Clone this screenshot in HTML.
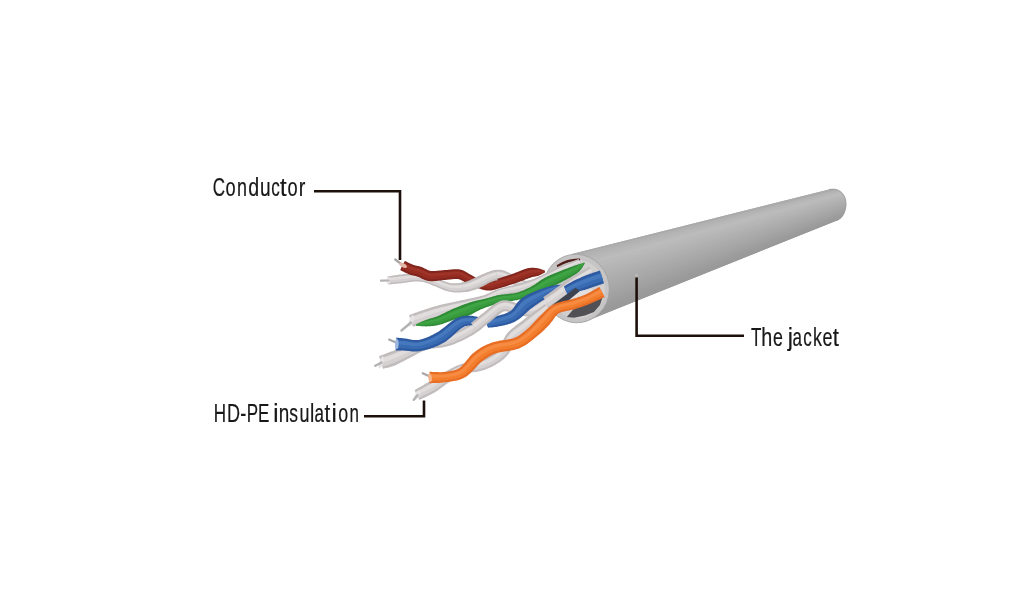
<!DOCTYPE html>
<html><head><meta charset="utf-8">
<style>
html,body{margin:0;padding:0;background:#fff;}
body{width:1024px;height:614px;overflow:hidden;}
svg{display:block;}
</style></head><body>
<svg width="1024" height="614" viewBox="0 0 1024 614">
<defs>
<linearGradient id="jk" gradientUnits="userSpaceOnUse" x1="690" y1="216" x2="712" y2="282">
<stop offset="0" stop-color="#a6a6a6"/>
<stop offset="0.25" stop-color="#b3b3b3"/>
<stop offset="0.6" stop-color="#a9a9a9"/>
<stop offset="1" stop-color="#9d9d9d"/>
</linearGradient>
<radialGradient id="cav" cx="0.5" cy="0.7" r="0.7">
<stop offset="0" stop-color="#4a4a4a"/>
<stop offset="1" stop-color="#6e6e6e"/>
</radialGradient>
</defs>
<rect width="1024" height="614" fill="#fff"/>
<!-- jacket body -->
<clipPath id="jclip"><path d="M572,254 L829,189.5 C840,187 847,196 846,206 C845,214 842,218 837,220.5 L584,322 Z"/></clipPath>
<g clip-path="url(#jclip)">
<path d="M540.0,258.7 L870.0,178.2 L870.0,209.3 L540.0,341.3 Z" fill="#aeaeae"/>
<path d="M540.0,252.9 L870.0,177.5 L870.0,182.1 L540.0,266.3 Z" fill="#aaaaaa"/>
<path d="M540.0,263.5 L870.0,181.2 L870.0,183.1 L540.0,269.1 Z" fill="#b1b1b1"/>
<path d="M540.0,266.3 L870.0,182.1 L870.0,184.1 L540.0,271.9 Z" fill="#b4b4b4"/>
<path d="M540.0,269.1 L870.0,183.1 L870.0,185.0 L540.0,274.8 Z" fill="#b7b7b7"/>
<path d="M540.0,271.9 L870.0,184.1 L870.0,186.0 L540.0,277.6 Z" fill="#b9b9b9"/>
<path d="M540.0,274.8 L870.0,185.0 L870.0,187.0 L540.0,280.4 Z" fill="#bcbcbc"/>
<path d="M540.0,277.6 L870.0,186.0 L870.0,187.9 L540.0,283.2 Z" fill="#bababa"/>
<path d="M540.0,280.4 L870.0,187.0 L870.0,188.9 L540.0,286.0 Z" fill="#b9b9b9"/>
<path d="M540.0,283.2 L870.0,187.9 L870.0,189.9 L540.0,288.8 Z" fill="#b7b7b7"/>
<path d="M540.0,286.0 L870.0,188.9 L870.0,190.8 L540.0,291.6 Z" fill="#b5b5b5"/>
<path d="M540.0,288.8 L870.0,189.9 L870.0,191.8 L540.0,294.4 Z" fill="#b4b4b4"/>
<path d="M540.0,291.6 L870.0,190.8 L870.0,192.8 L540.0,297.2 Z" fill="#b2b2b2"/>
<path d="M540.0,294.4 L870.0,191.8 L870.0,193.8 L540.0,300.0 Z" fill="#b0b0b0"/>
<path d="M540.0,297.2 L870.0,192.8 L870.0,194.7 L540.0,302.8 Z" fill="#afafaf"/>
<path d="M540.0,300.0 L870.0,193.8 L870.0,195.7 L540.0,305.6 Z" fill="#adadad"/>
<path d="M540.0,302.8 L870.0,194.7 L870.0,196.7 L540.0,308.4 Z" fill="#ababab"/>
<path d="M540.0,305.6 L870.0,195.7 L870.0,197.6 L540.0,311.2 Z" fill="#aaaaaa"/>
<path d="M540.0,308.4 L870.0,196.7 L870.0,198.6 L540.0,314.0 Z" fill="#a8a8a8"/>
<path d="M540.0,311.2 L870.0,197.6 L870.0,199.6 L540.0,316.8 Z" fill="#a7a7a7"/>
<path d="M540.0,314.0 L870.0,198.6 L870.0,200.5 L540.0,319.7 Z" fill="#a5a5a5"/>
<path d="M540.0,316.8 L870.0,199.6 L870.0,201.5 L540.0,322.5 Z" fill="#a3a3a3"/>
<path d="M540.0,319.7 L870.0,200.5 L870.0,202.5 L540.0,325.3 Z" fill="#a2a2a2"/>
<path d="M540.0,322.5 L870.0,201.5 L870.0,203.4 L540.0,328.1 Z" fill="#a0a0a0"/>
<path d="M540.0,325.3 L870.0,202.5 L870.0,204.4 L540.0,330.9 Z" fill="#9e9e9e"/>
<path d="M540.0,328.1 L870.0,203.4 L870.0,205.4 L540.0,333.7 Z" fill="#9c9c9c"/>
<path d="M540.0,330.9 L870.0,204.4 L870.0,206.3 L540.0,336.5 Z" fill="#9b9b9b"/>
<path d="M540.0,333.7 L870.0,205.4 L870.0,207.3 L540.0,339.3 Z" fill="#9a9a9a"/>
<path d="M540.0,336.5 L870.0,206.3 L870.0,210.0 L540.0,347.2 Z" fill="#999999"/>
</g>
<path d="M837,220.5 C842,218 845,214 846,206 C847,196 840,187 829,189.5" fill="none" stroke="#9c9c9c" stroke-width="1.2" opacity="0.6"/>
<!-- rim -->
<ellipse cx="576.3" cy="288.5" rx="33" ry="34.3" transform="rotate(-10 576.3 288.5)" fill="#c6c4c4" stroke="#a2a2a2" stroke-width="0.8"/>
<ellipse cx="577" cy="289" rx="28" ry="29.5" transform="rotate(-10 577 289)" fill="#d2cfcf"/>
<path d="M566.8,317 L574,308.5 L588,304 L602.5,297.5 L600,305 L594,312 L585,315.5 L574,317.7 Z" fill="#505055"/>
<path d="M552,305 L576,288 L580,292 L570,300.5 Z" fill="#3f4a5e"/>
<path d="M558,265.8 Q568,259.5 579,259.8" stroke="#52201c" stroke-width="2.4" fill="none" stroke-linecap="round"/>
<path d="M388.5,284.5 L389.1,284.4 L389.8,284.4 L390.6,284.3 L391.5,284.2 L392.5,284.1 L393.6,284.0 L394.8,283.9 L395.9,283.8 L397.1,283.7 L398.2,283.6 L399.4,283.5 L400.5,283.4 L401.6,283.2 L402.8,283.1 L404.0,282.9 L405.2,282.7 L406.4,282.5 L407.6,282.4 L408.8,282.2 L409.9,282.0 L411.0,281.9 L412.1,281.8 L413.1,281.7 L414.1,281.6 L415.1,281.6 L416.0,281.6 L416.8,281.6 L417.7,281.6 L418.5,281.6 L419.3,281.6 L420.1,281.7 L420.9,281.7 L421.7,281.8 L422.5,281.9 L423.3,282.1 L424.2,282.3 L425.0,282.4 L425.7,282.7 L426.5,282.9 L427.3,283.2 L428.1,283.5 L428.9,283.8 L429.7,284.2 L430.6,284.6 L431.6,285.0 L432.5,285.4 L433.5,285.8 L434.5,286.2 L435.6,286.6 L436.7,287.0 L437.8,287.5 L438.9,288.0 L440.2,288.6 L441.4,289.1 L442.8,289.7 L444.1,290.2 L445.5,290.7 L446.9,291.1 L448.3,291.5 L449.8,291.8 L451.2,292.1 L452.6,292.2 L454.0,292.4 L455.4,292.4 L456.8,292.5 L458.1,292.5 L459.5,292.4 L460.8,292.4 L462.1,292.3 L463.4,292.2 L464.6,292.0 L465.9,291.9 L467.1,291.7 L468.3,291.5 L469.5,291.2 L470.7,290.9 L471.8,290.6 L472.9,290.3 L473.9,290.0 L475.0,289.6 L476.0,289.3 L477.0,288.9 L478.0,288.5 L479.1,288.1 L480.3,287.6 L481.4,287.1 L482.6,286.5 L483.8,285.9 L484.9,285.3 L486.0,284.7 L487.1,284.1 L488.1,283.6 L489.1,283.1 L490.1,282.6 L491.0,282.2 L491.8,281.9 L492.7,281.6 L493.5,281.3 L494.3,281.0 L495.0,280.8 L495.7,280.6 L496.3,280.5 L496.8,280.4 L497.3,280.3 L497.9,280.2 L498.4,280.2 L498.9,280.2 L499.5,280.2 L500.1,280.2 L500.8,280.3 L501.5,280.4 L502.3,280.6 L503.2,280.8 L504.1,281.1 L505.1,281.4 L506.1,281.7 L507.2,282.0 L508.2,282.4 L509.3,282.7 L510.3,283.1 L511.3,283.4 L512.2,283.8 L513.2,284.2 L514.2,284.7 L515.3,285.2 L516.5,285.8 L517.7,286.3 L518.9,286.8 L520.3,287.3 L521.6,287.8 L523.1,288.1 L524.6,288.3 L526.0,288.4 L527.5,288.5 L529.0,288.4 L530.5,288.3 L531.9,288.1 L533.4,287.9 L534.8,287.6 L536.1,287.4 L537.5,287.1 L538.8,286.8 L540.0,286.5 L541.2,286.2 L542.4,285.9 L543.6,285.6 L544.7,285.2 L545.9,284.9 L547.0,284.5 L548.0,284.1 L549.1,283.7 L550.1,283.3 L551.1,282.8 L552.1,282.4 L553.1,281.9 L554.2,281.4 L555.3,280.9 L556.5,280.3 L557.8,279.6 L559.1,279.0 L560.4,278.3 L561.7,277.6 L562.9,276.9 L564.0,276.2 L565.1,275.6 L566.0,275.1 L566.8,274.7 L567.4,274.3 L562.6,265.7 L562.0,266.0 L561.2,266.4 L560.2,267.0 L559.2,267.5 L558.0,268.2 L556.8,268.8 L555.6,269.5 L554.4,270.2 L553.2,270.8 L552.0,271.4 L550.9,272.0 L549.8,272.6 L548.8,273.1 L547.9,273.6 L546.9,274.1 L546.0,274.6 L545.1,275.0 L544.2,275.5 L543.4,275.9 L542.5,276.3 L541.6,276.7 L540.7,277.1 L539.8,277.4 L538.8,277.8 L537.7,278.1 L536.5,278.5 L535.3,278.9 L534.2,279.3 L533.0,279.6 L531.8,279.9 L530.6,280.2 L529.5,280.4 L528.4,280.6 L527.3,280.7 L526.3,280.7 L525.4,280.7 L524.6,280.5 L523.8,280.3 L522.9,280.0 L522.0,279.6 L521.1,279.1 L520.1,278.6 L519.2,278.0 L518.1,277.3 L517.1,276.7 L515.9,276.1 L514.8,275.5 L513.7,274.9 L512.6,274.5 L511.6,274.0 L510.6,273.5 L509.6,273.0 L508.6,272.5 L507.5,272.0 L506.4,271.5 L505.3,271.1 L504.2,270.6 L503.0,270.3 L501.7,270.0 L500.5,269.8 L499.3,269.7 L498.1,269.7 L497.0,269.7 L495.9,269.8 L494.9,270.0 L493.9,270.3 L492.9,270.5 L492.0,270.8 L491.0,271.1 L490.1,271.4 L489.2,271.8 L488.2,272.1 L487.1,272.5 L485.9,273.0 L484.7,273.5 L483.6,274.0 L482.4,274.5 L481.2,275.0 L480.1,275.6 L479.0,276.1 L477.9,276.6 L476.9,277.1 L475.9,277.5 L474.9,277.9 L473.9,278.3 L472.9,278.8 L472.0,279.2 L471.1,279.6 L470.2,280.0 L469.3,280.4 L468.5,280.7 L467.6,281.1 L466.8,281.4 L465.9,281.6 L465.1,281.9 L464.1,282.1 L463.1,282.3 L462.1,282.5 L461.0,282.7 L459.9,282.9 L458.8,283.1 L457.7,283.2 L456.6,283.3 L455.5,283.3 L454.4,283.3 L453.3,283.3 L452.3,283.3 L451.2,283.2 L450.2,283.0 L449.2,282.8 L448.1,282.5 L447.0,282.1 L445.8,281.7 L444.6,281.2 L443.4,280.8 L442.2,280.3 L441.0,279.8 L439.8,279.3 L438.6,278.8 L437.5,278.4 L436.4,278.1 L435.4,277.7 L434.4,277.4 L433.5,277.1 L432.6,276.8 L431.7,276.4 L430.7,276.1 L429.8,275.8 L428.8,275.5 L427.9,275.2 L426.9,275.0 L425.8,274.7 L424.9,274.5 L423.9,274.3 L422.9,274.2 L422.0,274.0 L421.0,273.9 L420.0,273.7 L419.1,273.6 L418.1,273.5 L417.1,273.5 L416.1,273.4 L415.0,273.4 L413.9,273.4 L412.7,273.4 L411.5,273.4 L410.3,273.5 L409.0,273.6 L407.8,273.7 L406.5,273.8 L405.3,274.0 L404.1,274.1 L402.9,274.2 L401.7,274.4 L400.6,274.5 L399.5,274.6 L398.4,274.8 L397.2,274.9 L396.1,275.1 L394.9,275.2 L393.7,275.4 L392.6,275.5 L391.5,275.7 L390.5,275.9 L389.6,276.0 L388.8,276.1 L388.1,276.2 L387.5,276.3 Z" fill="#c2bcbd"/><path d="M388.3,282.9 L388.9,282.9 L389.6,282.8 L390.4,282.7 L391.3,282.6 L392.4,282.5 L393.4,282.4 L394.6,282.3 L395.7,282.2 L396.9,282.1 L398.1,282.0 L399.2,281.8 L400.3,281.7 L401.4,281.6 L402.6,281.4 L403.8,281.3 L405.0,281.1 L406.2,280.9 L407.4,280.7 L408.6,280.6 L409.8,280.4 L410.9,280.3 L412.0,280.2 L413.1,280.1 L414.1,280.1 L415.0,280.0 L416.0,280.0 L416.9,280.0 L417.8,280.0 L418.6,280.1 L419.5,280.1 L420.3,280.2 L421.1,280.3 L421.9,280.4 L422.8,280.5 L423.6,280.7 L424.5,280.8 L425.3,281.0 L426.1,281.3 L426.9,281.5 L427.8,281.8 L428.6,282.1 L429.4,282.4 L430.3,282.8 L431.2,283.1 L432.1,283.5 L433.1,283.9 L434.1,284.3 L435.1,284.7 L436.2,285.1 L437.2,285.5 L438.4,286.0 L439.6,286.5 L440.8,287.1 L442.0,287.6 L443.3,288.1 L444.6,288.6 L446.0,289.1 L447.3,289.5 L448.7,289.9 L450.0,290.2 L451.4,290.4 L452.7,290.6 L454.1,290.7 L455.4,290.7 L456.7,290.7 L458.1,290.7 L459.4,290.7 L460.6,290.6 L461.9,290.5 L463.1,290.3 L464.3,290.2 L465.5,290.0 L466.7,289.8 L467.9,289.6 L469.0,289.3 L470.1,289.1 L471.2,288.8 L472.2,288.4 L473.2,288.1 L474.2,287.7 L475.2,287.3 L476.2,287.0 L477.3,286.6 L478.3,286.1 L479.4,285.7 L480.6,285.2 L481.7,284.6 L482.9,284.0 L484.0,283.5 L485.1,282.9 L486.2,282.3 L487.3,281.8 L488.3,281.3 L489.3,280.8 L490.2,280.4 L491.1,280.0 L492.0,279.7 L492.9,279.4 L493.7,279.2 L494.4,278.9 L495.1,278.7 L495.8,278.5 L496.4,278.4 L497.1,278.3 L497.7,278.2 L498.3,278.2 L499.0,278.2 L499.7,278.2 L500.4,278.3 L501.2,278.4 L502.0,278.6 L502.9,278.8 L503.8,279.1 L504.8,279.3 L505.8,279.7 L506.8,280.0 L507.8,280.4 L508.9,280.8 L509.9,281.2 L510.9,281.5 L511.9,281.9 L512.9,282.3 L513.9,282.8 L515.0,283.3 L516.1,283.8 L517.2,284.4 L518.3,284.9 L519.5,285.5 L520.8,285.9 L522.0,286.3 L523.4,286.7 L524.7,286.9 L526.1,287.0 L527.5,287.0 L528.9,286.9 L530.3,286.8 L531.7,286.6 L533.1,286.4 L534.4,286.1 L535.8,285.8 L537.1,285.5 L538.3,285.2 L539.6,284.9 L540.8,284.6 L541.9,284.3 L543.1,284.0 L544.2,283.6 L545.2,283.3 L546.3,282.9 L547.3,282.5 L548.3,282.0 L549.3,281.6 L550.3,281.2 L551.3,280.7 L552.3,280.2 L553.4,279.8 L554.5,279.2 L555.7,278.6 L556.9,278.0 L558.2,277.3 L559.5,276.6 L560.7,275.9 L561.9,275.2 L563.1,274.6 L564.1,274.0 L565.1,273.5 L565.9,273.0 L566.5,272.7 L563.5,267.3 L562.9,267.7 L562.1,268.1 L561.1,268.6 L560.1,269.2 L559.0,269.8 L557.8,270.5 L556.5,271.2 L555.3,271.8 L554.0,272.5 L552.8,273.1 L551.7,273.7 L550.6,274.2 L549.6,274.7 L548.7,275.2 L547.7,275.7 L546.8,276.2 L545.9,276.7 L545.0,277.1 L544.1,277.5 L543.1,277.9 L542.2,278.3 L541.3,278.7 L540.3,279.0 L539.2,279.4 L538.1,279.7 L537.0,280.1 L535.8,280.4 L534.5,280.8 L533.3,281.1 L532.1,281.4 L530.8,281.7 L529.6,281.9 L528.5,282.1 L527.3,282.2 L526.3,282.2 L525.3,282.1 L524.3,282.0 L523.4,281.7 L522.4,281.4 L521.4,281.0 L520.5,280.5 L519.4,279.9 L518.4,279.3 L517.4,278.7 L516.3,278.1 L515.2,277.5 L514.1,277.0 L513.1,276.5 L512.0,276.0 L511.0,275.6 L510.0,275.1 L508.9,274.6 L507.9,274.2 L506.9,273.7 L505.8,273.3 L504.7,272.9 L503.7,272.5 L502.6,272.2 L501.4,271.9 L500.3,271.8 L499.2,271.7 L498.2,271.7 L497.2,271.7 L496.2,271.8 L495.2,272.0 L494.3,272.2 L493.4,272.4 L492.5,272.7 L491.7,273.0 L490.8,273.3 L489.9,273.6 L488.9,274.0 L487.8,274.3 L486.7,274.8 L485.6,275.3 L484.4,275.8 L483.3,276.3 L482.1,276.9 L481.0,277.4 L479.9,278.0 L478.8,278.5 L477.7,279.0 L476.7,279.4 L475.7,279.9 L474.7,280.3 L473.7,280.7 L472.7,281.1 L471.8,281.5 L470.9,281.9 L470.0,282.3 L469.1,282.6 L468.2,282.9 L467.3,283.2 L466.4,283.5 L465.5,283.8 L464.5,284.0 L463.4,284.2 L462.3,284.4 L461.2,284.5 L460.1,284.7 L458.9,284.8 L457.8,284.9 L456.6,285.0 L455.4,285.1 L454.3,285.1 L453.2,285.0 L452.0,284.9 L451.0,284.8 L449.9,284.6 L448.8,284.4 L447.6,284.0 L446.4,283.6 L445.2,283.2 L444.0,282.7 L442.8,282.2 L441.6,281.7 L440.4,281.2 L439.2,280.8 L438.0,280.3 L436.9,279.9 L435.8,279.5 L434.9,279.2 L433.9,278.8 L433.0,278.5 L432.0,278.2 L431.1,277.8 L430.2,277.5 L429.3,277.2 L428.4,276.9 L427.4,276.7 L426.5,276.4 L425.5,276.2 L424.6,276.0 L423.6,275.8 L422.7,275.6 L421.8,275.5 L420.8,275.3 L419.9,275.2 L419.0,275.1 L418.0,275.1 L417.0,275.0 L416.0,275.0 L415.0,274.9 L413.9,274.9 L412.8,275.0 L411.6,275.0 L410.4,275.1 L409.2,275.2 L408.0,275.3 L406.7,275.5 L405.5,275.6 L404.3,275.7 L403.1,275.9 L401.9,276.0 L400.8,276.2 L399.7,276.3 L398.6,276.4 L397.4,276.6 L396.3,276.7 L395.1,276.9 L393.9,277.0 L392.8,277.2 L391.7,277.3 L390.7,277.4 L389.8,277.6 L389.0,277.7 L388.3,277.8 L387.7,277.9 Z" fill="#d5d0d1"/><path d="M388.0,280.6 L388.6,280.6 L389.3,280.5 L390.1,280.4 L391.1,280.3 L392.1,280.2 L393.2,280.0 L394.3,279.9 L395.4,279.8 L396.6,279.6 L397.8,279.5 L398.9,279.4 L400.0,279.3 L401.1,279.1 L402.3,279.0 L403.5,278.8 L404.7,278.7 L405.9,278.5 L407.1,278.4 L408.3,278.2 L409.5,278.1 L410.7,278.0 L411.8,277.9 L412.9,277.8 L414.0,277.7 L415.0,277.7 L416.0,277.7 L417.0,277.8 L417.9,277.8 L418.8,277.8 L419.7,277.9 L420.5,278.0 L421.4,278.1 L422.3,278.2 L423.2,278.4 L424.0,278.5 L424.9,278.7 L425.8,278.9 L426.7,279.2 L427.6,279.4 L428.5,279.7 L429.3,280.0 L430.2,280.4 L431.1,280.7 L432.0,281.1 L432.9,281.4 L433.9,281.8 L434.9,282.2 L435.9,282.5 L437.0,282.9 L438.1,283.4 L439.3,283.9 L440.5,284.4 L441.7,284.9 L442.9,285.4 L444.2,285.9 L445.5,286.4 L446.7,286.8 L448.0,287.2 L449.2,287.5 L450.5,287.8 L451.7,287.9 L452.9,288.1 L454.2,288.1 L455.4,288.2 L456.7,288.1 L457.9,288.1 L459.2,288.0 L460.4,287.9 L461.6,287.8 L462.8,287.6 L463.9,287.5 L465.1,287.3 L466.1,287.1 L467.2,286.9 L468.2,286.6 L469.2,286.3 L470.2,286.0 L471.2,285.6 L472.2,285.3 L473.1,284.9 L474.1,284.5 L475.1,284.1 L476.1,283.7 L477.1,283.3 L478.2,282.9 L479.3,282.4 L480.4,281.8 L481.5,281.3 L482.6,280.7 L483.8,280.2 L484.9,279.6 L486.0,279.1 L487.1,278.6 L488.1,278.1 L489.1,277.7 L490.1,277.3 L491.0,277.0 L491.9,276.7 L492.8,276.4 L493.6,276.1 L494.4,275.9 L495.1,275.7 L495.9,275.5 L496.7,275.4 L497.5,275.3 L498.3,275.3 L499.1,275.3 L500.0,275.3 L500.9,275.4 L501.8,275.6 L502.8,275.8 L503.7,276.1 L504.7,276.4 L505.7,276.8 L506.7,277.2 L507.7,277.6 L508.8,278.0 L509.8,278.4 L510.9,278.8 L511.9,279.2 L512.9,279.7 L514.0,280.2 L515.0,280.7 L516.1,281.2 L517.1,281.8 L518.2,282.4 L519.3,282.9 L520.4,283.4 L521.5,283.9 L522.6,284.3 L523.8,284.5 L525.0,284.7 L526.2,284.8 L527.4,284.8 L528.7,284.7 L530.0,284.6 L531.3,284.4 L532.6,284.1 L533.9,283.9 L535.2,283.6 L536.5,283.2 L537.7,282.9 L538.9,282.6 L540.1,282.3 L541.2,281.9 L542.2,281.6 L543.3,281.2 L544.3,280.8 L545.3,280.5 L546.2,280.0 L547.2,279.6 L548.2,279.2 L549.1,278.7 L550.1,278.2 L551.1,277.8 L552.1,277.3 L553.2,276.7 L554.4,276.1 L555.6,275.5 L556.9,274.8 L558.1,274.1 L559.4,273.4 L560.6,272.8 L561.7,272.1 L562.8,271.6 L563.7,271.0 L564.5,270.6 L565.1,270.3 L563.7,267.7 L563.1,268.0 L562.3,268.4 L561.3,269.0 L560.3,269.5 L559.2,270.2 L558.0,270.8 L556.7,271.5 L555.5,272.2 L554.2,272.8 L553.0,273.5 L551.9,274.1 L550.8,274.6 L549.8,275.1 L548.8,275.6 L547.9,276.1 L546.9,276.6 L546.0,277.0 L545.1,277.5 L544.2,277.9 L543.3,278.3 L542.3,278.7 L541.4,279.0 L540.4,279.4 L539.3,279.7 L538.2,280.1 L537.0,280.4 L535.8,280.8 L534.6,281.1 L533.4,281.5 L532.1,281.8 L530.9,282.0 L529.7,282.2 L528.5,282.4 L527.4,282.5 L526.3,282.5 L525.2,282.4 L524.3,282.3 L523.3,282.0 L522.3,281.7 L521.3,281.2 L520.3,280.8 L519.3,280.2 L518.3,279.6 L517.2,279.0 L516.2,278.4 L515.1,277.8 L514.0,277.3 L512.9,276.8 L511.9,276.4 L510.8,275.9 L509.8,275.4 L508.8,275.0 L507.8,274.5 L506.7,274.1 L505.7,273.7 L504.6,273.3 L503.5,272.9 L502.5,272.6 L501.4,272.4 L500.3,272.2 L499.2,272.1 L498.2,272.1 L497.2,272.1 L496.2,272.3 L495.3,272.4 L494.4,272.6 L493.5,272.8 L492.7,273.1 L491.8,273.4 L490.9,273.7 L490.0,274.0 L489.0,274.4 L488.0,274.7 L486.9,275.2 L485.8,275.7 L484.6,276.2 L483.5,276.7 L482.3,277.3 L481.2,277.8 L480.1,278.4 L479.0,278.9 L477.9,279.4 L476.9,279.8 L475.8,280.3 L474.9,280.7 L473.9,281.1 L472.9,281.5 L472.0,281.9 L471.0,282.3 L470.1,282.7 L469.2,283.0 L468.3,283.3 L467.4,283.6 L466.5,283.9 L465.5,284.2 L464.5,284.4 L463.5,284.6 L462.4,284.8 L461.2,284.9 L460.1,285.1 L458.9,285.2 L457.8,285.3 L456.6,285.4 L455.4,285.4 L454.3,285.4 L453.1,285.4 L452.0,285.3 L450.9,285.2 L449.8,285.0 L448.7,284.7 L447.5,284.3 L446.3,284.0 L445.1,283.5 L443.9,283.0 L442.7,282.5 L441.5,282.0 L440.2,281.5 L439.1,281.1 L437.9,280.6 L436.8,280.2 L435.7,279.8 L434.7,279.5 L433.8,279.1 L432.9,278.8 L431.9,278.5 L431.0,278.1 L430.1,277.8 L429.2,277.5 L428.3,277.2 L427.4,276.9 L426.4,276.7 L425.5,276.5 L424.5,276.3 L423.6,276.1 L422.6,275.9 L421.7,275.8 L420.8,275.7 L419.9,275.5 L418.9,275.5 L418.0,275.4 L417.0,275.3 L416.0,275.3 L415.0,275.3 L413.9,275.3 L412.8,275.3 L411.7,275.4 L410.5,275.4 L409.2,275.5 L408.0,275.7 L406.8,275.8 L405.5,275.9 L404.3,276.1 L403.1,276.2 L402.0,276.4 L400.8,276.5 L399.7,276.6 L398.6,276.8 L397.5,276.9 L396.3,277.0 L395.1,277.2 L394.0,277.3 L392.9,277.5 L391.8,277.6 L390.8,277.8 L389.8,277.9 L389.0,278.0 L388.3,278.1 L387.7,278.2 Z" fill="#e6e2e3" opacity="0.7"/>
<ellipse cx="388.3" cy="280.4" rx="1.6" ry="4" fill="#e6e4e4"/>
<path d="M395.2,259.5 L402.0,264.5" stroke="#a5a5a5" stroke-width="2.2" stroke-linecap="round"/>
<path d="M400.2,270.1 L400.6,270.3 L401.1,270.6 L401.7,270.9 L402.4,271.2 L403.1,271.6 L403.9,272.0 L404.7,272.4 L405.6,272.8 L406.5,273.2 L407.4,273.6 L408.3,274.0 L409.2,274.4 L410.1,274.7 L411.0,274.9 L411.8,275.2 L412.6,275.4 L413.4,275.6 L414.2,275.8 L414.9,276.0 L415.6,276.1 L416.3,276.3 L417.0,276.5 L417.6,276.7 L418.2,276.9 L418.8,277.1 L419.4,277.3 L420.0,277.7 L420.7,278.0 L421.5,278.4 L422.3,278.9 L423.3,279.3 L424.3,279.8 L425.4,280.2 L426.7,280.6 L428.0,280.9 L429.4,281.1 L430.8,281.2 L432.2,281.3 L433.6,281.2 L435.0,281.1 L436.4,281.0 L437.8,280.8 L439.1,280.6 L440.4,280.4 L441.7,280.3 L443.0,280.1 L444.2,280.0 L445.4,279.9 L446.6,279.8 L447.9,279.7 L449.2,279.5 L450.4,279.4 L451.6,279.3 L452.8,279.2 L453.9,279.1 L454.9,279.1 L455.9,279.0 L456.8,279.0 L457.6,279.1 L458.3,279.1 L458.9,279.2 L459.4,279.4 L459.9,279.5 L460.4,279.7 L460.9,279.9 L461.4,280.2 L462.0,280.5 L462.7,280.9 L463.4,281.3 L464.2,281.7 L465.0,282.2 L465.9,282.6 L466.7,283.0 L467.5,283.3 L468.3,283.7 L469.1,284.1 L470.0,284.6 L470.9,285.0 L471.8,285.5 L472.7,285.9 L473.6,286.3 L474.6,286.8 L475.5,287.2 L476.4,287.5 L477.4,287.9 L478.3,288.2 L479.2,288.5 L480.2,288.8 L481.1,289.2 L482.1,289.4 L483.0,289.7 L484.0,289.9 L484.9,290.2 L485.9,290.3 L486.8,290.5 L487.7,290.6 L488.7,290.6 L489.6,290.6 L490.5,290.6 L491.3,290.5 L492.1,290.3 L492.8,290.2 L493.4,290.0 L494.0,289.8 L494.6,289.7 L495.1,289.5 L495.7,289.4 L496.3,289.2 L497.0,289.0 L497.8,288.8 L498.6,288.6 L499.5,288.3 L500.3,288.1 L501.2,287.8 L502.1,287.5 L503.0,287.3 L503.9,287.0 L504.7,286.7 L505.6,286.4 L506.5,286.2 L507.3,285.9 L508.2,285.6 L509.0,285.3 L509.9,285.1 L510.7,284.8 L511.6,284.5 L512.4,284.2 L513.3,283.9 L514.2,283.6 L515.2,283.3 L516.1,283.0 L517.2,282.6 L518.2,282.2 L519.4,281.8 L520.6,281.3 L521.8,280.9 L523.0,280.4 L524.2,280.0 L525.3,279.5 L526.5,279.1 L527.5,278.7 L528.5,278.3 L529.5,278.0 L530.3,277.7 L531.0,277.5 L531.7,277.3 L532.3,277.1 L533.0,277.0 L533.6,276.8 L534.2,276.7 L534.9,276.6 L535.5,276.4 L536.2,276.3 L536.9,276.1 L537.6,275.9 L538.3,275.7 L539.0,275.5 L539.6,275.2 L540.3,274.9 L540.9,274.6 L541.6,274.2 L542.2,273.9 L542.8,273.6 L543.4,273.3 L543.9,273.0 L544.3,272.7 L544.7,272.5 L545.1,272.4 L544.9,270.6 L544.6,270.5 L544.2,270.4 L543.7,270.2 L543.2,269.9 L542.6,269.7 L541.9,269.5 L541.2,269.2 L540.5,269.0 L539.8,268.8 L539.1,268.6 L538.4,268.4 L537.7,268.3 L537.1,268.2 L536.4,268.1 L535.8,268.0 L535.1,267.9 L534.4,267.8 L533.6,267.7 L532.7,267.7 L531.8,267.7 L530.9,267.8 L529.9,267.9 L528.8,268.1 L527.7,268.3 L526.6,268.6 L525.4,268.9 L524.2,269.3 L523.0,269.8 L521.8,270.2 L520.5,270.7 L519.3,271.2 L518.1,271.7 L517.0,272.2 L515.9,272.6 L514.8,273.0 L513.8,273.4 L512.9,273.7 L512.0,274.1 L511.1,274.4 L510.2,274.7 L509.3,275.0 L508.5,275.2 L507.7,275.5 L506.8,275.8 L506.0,276.0 L505.2,276.3 L504.4,276.6 L503.5,276.8 L502.7,277.1 L501.8,277.4 L500.9,277.6 L500.1,277.9 L499.2,278.2 L498.4,278.4 L497.5,278.7 L496.7,278.9 L495.9,279.2 L495.2,279.4 L494.4,279.6 L493.7,279.8 L492.9,280.0 L492.3,280.2 L491.6,280.5 L491.1,280.7 L490.6,280.9 L490.2,281.0 L489.9,281.1 L489.6,281.2 L489.3,281.3 L489.0,281.4 L488.7,281.4 L488.3,281.4 L487.7,281.4 L487.1,281.3 L486.5,281.3 L485.8,281.2 L485.1,281.0 L484.3,280.9 L483.5,280.7 L482.7,280.5 L481.9,280.3 L481.1,280.0 L480.3,279.7 L479.6,279.5 L478.8,279.2 L478.1,278.9 L477.3,278.5 L476.6,278.1 L475.8,277.7 L475.0,277.2 L474.2,276.7 L473.4,276.3 L472.6,275.8 L471.7,275.3 L470.9,274.8 L470.1,274.4 L469.4,274.0 L468.8,273.7 L468.2,273.3 L467.5,272.8 L466.8,272.4 L466.1,271.9 L465.2,271.4 L464.3,270.9 L463.3,270.5 L462.2,270.1 L461.0,269.7 L459.7,269.5 L458.4,269.3 L457.1,269.2 L455.8,269.2 L454.5,269.3 L453.2,269.3 L452.0,269.5 L450.7,269.6 L449.4,269.7 L448.2,269.8 L447.0,270.0 L445.8,270.1 L444.6,270.1 L443.3,270.2 L442.0,270.3 L440.7,270.4 L439.3,270.6 L438.0,270.7 L436.7,270.8 L435.5,270.9 L434.3,270.9 L433.2,271.0 L432.3,271.0 L431.4,270.9 L430.6,270.9 L430.0,270.7 L429.4,270.6 L428.8,270.4 L428.2,270.2 L427.6,269.9 L426.9,269.6 L426.2,269.2 L425.4,268.8 L424.6,268.4 L423.7,267.9 L422.7,267.5 L421.8,267.1 L420.8,266.8 L419.9,266.5 L419.0,266.3 L418.2,266.1 L417.4,265.9 L416.6,265.7 L415.9,265.5 L415.2,265.4 L414.6,265.2 L414.0,265.0 L413.4,264.9 L412.8,264.6 L412.2,264.4 L411.5,264.1 L410.8,263.8 L410.0,263.4 L409.2,263.1 L408.5,262.7 L407.7,262.3 L407.0,262.0 L406.3,261.6 L405.7,261.3 L405.2,261.1 L404.8,260.9 Z" fill="#82251c"/><path d="M401.1,268.3 L401.5,268.5 L402.0,268.7 L402.6,269.0 L403.3,269.4 L404.0,269.7 L404.8,270.1 L405.6,270.5 L406.5,270.9 L407.4,271.3 L408.2,271.7 L409.1,272.1 L409.9,272.4 L410.7,272.7 L411.6,273.0 L412.4,273.2 L413.1,273.4 L413.9,273.6 L414.7,273.8 L415.4,273.9 L416.1,274.1 L416.9,274.3 L417.6,274.5 L418.3,274.7 L418.9,274.9 L419.6,275.2 L420.3,275.5 L420.9,275.8 L421.7,276.2 L422.4,276.6 L423.2,277.0 L424.1,277.4 L425.1,277.9 L426.1,278.3 L427.2,278.6 L428.4,278.9 L429.6,279.1 L430.9,279.2 L432.2,279.2 L433.5,279.2 L434.9,279.1 L436.2,278.9 L437.6,278.8 L438.9,278.6 L440.2,278.5 L441.5,278.3 L442.8,278.1 L444.0,278.0 L445.2,277.9 L446.5,277.8 L447.7,277.7 L449.0,277.6 L450.2,277.5 L451.4,277.4 L452.6,277.2 L453.8,277.2 L454.9,277.1 L455.9,277.1 L456.9,277.1 L457.8,277.1 L458.6,277.2 L459.3,277.3 L459.9,277.5 L460.6,277.7 L461.1,277.9 L461.7,278.2 L462.4,278.5 L463.0,278.9 L463.7,279.3 L464.4,279.7 L465.1,280.1 L465.9,280.5 L466.7,280.9 L467.5,281.3 L468.3,281.7 L469.2,282.1 L470.0,282.6 L470.8,283.0 L471.7,283.4 L472.6,283.9 L473.5,284.3 L474.4,284.8 L475.3,285.2 L476.2,285.6 L477.1,285.9 L478.0,286.2 L478.9,286.6 L479.8,286.9 L480.7,287.2 L481.6,287.5 L482.5,287.7 L483.4,288.0 L484.3,288.2 L485.2,288.4 L486.1,288.5 L487.0,288.7 L487.8,288.8 L488.7,288.8 L489.5,288.8 L490.2,288.7 L491.0,288.6 L491.6,288.5 L492.3,288.3 L492.9,288.2 L493.4,288.0 L494.0,287.8 L494.6,287.7 L495.1,287.5 L495.8,287.3 L496.5,287.1 L497.3,286.9 L498.1,286.7 L498.9,286.5 L499.8,286.2 L500.6,285.9 L501.5,285.7 L502.4,285.4 L503.3,285.1 L504.1,284.8 L505.0,284.6 L505.9,284.3 L506.7,284.0 L507.6,283.8 L508.4,283.5 L509.3,283.2 L510.1,282.9 L511.0,282.7 L511.8,282.4 L512.7,282.1 L513.6,281.8 L514.5,281.4 L515.5,281.1 L516.5,280.8 L517.6,280.4 L518.7,280.0 L519.8,279.5 L521.0,279.0 L522.2,278.6 L523.4,278.1 L524.6,277.7 L525.8,277.2 L526.9,276.8 L527.9,276.4 L528.9,276.1 L529.8,275.8 L530.6,275.6 L531.3,275.4 L532.0,275.3 L532.7,275.1 L533.4,275.0 L534.1,274.9 L534.8,274.8 L535.4,274.7 L536.1,274.6 L536.8,274.5 L537.5,274.4 L538.2,274.2 L538.9,274.1 L539.5,273.9 L540.2,273.7 L540.9,273.5 L541.5,273.2 L542.2,273.0 L542.8,272.8 L543.3,272.6 L543.8,272.4 L544.3,272.3 L544.7,272.1 L545.0,272.0 L545.0,271.0 L544.6,270.9 L544.2,270.8 L543.7,270.7 L543.2,270.6 L542.6,270.5 L542.0,270.4 L541.3,270.2 L540.6,270.1 L539.9,270.0 L539.2,269.9 L538.5,269.8 L537.8,269.8 L537.2,269.7 L536.5,269.7 L535.9,269.6 L535.2,269.6 L534.5,269.5 L533.7,269.5 L532.9,269.5 L532.1,269.6 L531.2,269.7 L530.2,269.8 L529.3,269.9 L528.2,270.2 L527.2,270.5 L526.0,270.8 L524.9,271.2 L523.7,271.6 L522.5,272.1 L521.3,272.6 L520.0,273.1 L518.9,273.5 L517.7,274.0 L516.6,274.5 L515.5,274.9 L514.5,275.2 L513.5,275.6 L512.6,275.9 L511.7,276.2 L510.8,276.5 L510.0,276.8 L509.1,277.1 L508.3,277.4 L507.4,277.6 L506.6,277.9 L505.8,278.2 L505.0,278.4 L504.1,278.7 L503.3,279.0 L502.4,279.2 L501.5,279.5 L500.7,279.8 L499.8,280.0 L498.9,280.3 L498.1,280.6 L497.3,280.8 L496.5,281.0 L495.7,281.3 L494.9,281.5 L494.2,281.7 L493.5,281.9 L492.8,282.1 L492.2,282.3 L491.7,282.5 L491.2,282.7 L490.7,282.8 L490.3,283.0 L489.9,283.1 L489.5,283.2 L489.1,283.2 L488.7,283.2 L488.2,283.2 L487.6,283.2 L486.9,283.1 L486.2,283.0 L485.4,282.9 L484.7,282.8 L483.9,282.6 L483.0,282.4 L482.2,282.2 L481.4,281.9 L480.5,281.6 L479.7,281.4 L478.9,281.1 L478.2,280.8 L477.4,280.4 L476.6,280.1 L475.8,279.6 L475.0,279.2 L474.2,278.8 L473.4,278.3 L472.5,277.8 L471.7,277.4 L470.9,276.9 L470.1,276.5 L469.3,276.1 L468.5,275.7 L467.9,275.3 L467.2,274.9 L466.6,274.4 L465.9,274.0 L465.1,273.5 L464.4,273.1 L463.5,272.7 L462.6,272.3 L461.6,271.9 L460.6,271.6 L459.4,271.4 L458.3,271.3 L457.1,271.2 L455.8,271.2 L454.6,271.2 L453.4,271.3 L452.1,271.4 L450.9,271.5 L449.6,271.7 L448.4,271.8 L447.2,271.9 L446.0,272.0 L444.8,272.1 L443.5,272.2 L442.2,272.3 L440.9,272.4 L439.6,272.5 L438.2,272.7 L436.9,272.8 L435.7,272.9 L434.5,273.0 L433.3,273.0 L432.2,273.0 L431.3,273.0 L430.4,272.9 L429.6,272.8 L428.9,272.6 L428.1,272.4 L427.4,272.1 L426.7,271.8 L426.0,271.4 L425.3,271.0 L424.5,270.6 L423.7,270.2 L422.8,269.8 L422.0,269.4 L421.1,269.1 L420.2,268.8 L419.3,268.5 L418.5,268.3 L417.7,268.1 L416.9,267.9 L416.1,267.7 L415.4,267.6 L414.7,267.4 L414.0,267.2 L413.4,267.0 L412.7,266.8 L412.1,266.6 L411.4,266.3 L410.7,266.0 L409.9,265.7 L409.1,265.3 L408.3,264.9 L407.6,264.6 L406.8,264.2 L406.1,263.8 L405.4,263.5 L404.8,263.2 L404.3,262.9 L403.9,262.7 Z" fill="#952c22"/><path d="M402.4,265.8 L402.8,266.0 L403.3,266.2 L403.9,266.5 L404.5,266.9 L405.3,267.2 L406.1,267.6 L406.9,268.0 L407.7,268.4 L408.5,268.8 L409.3,269.2 L410.1,269.5 L410.9,269.8 L411.6,270.1 L412.4,270.3 L413.1,270.5 L413.8,270.7 L414.6,270.9 L415.3,271.1 L416.1,271.2 L416.8,271.4 L417.6,271.6 L418.4,271.8 L419.1,272.0 L419.9,272.3 L420.7,272.6 L421.4,272.9 L422.2,273.3 L422.9,273.7 L423.7,274.1 L424.5,274.5 L425.3,274.9 L426.1,275.3 L427.0,275.6 L428.0,275.9 L428.9,276.1 L430.0,276.3 L431.1,276.4 L432.2,276.4 L433.4,276.4 L434.7,276.3 L436.0,276.2 L437.3,276.1 L438.6,275.9 L439.9,275.8 L441.2,275.6 L442.5,275.5 L443.8,275.4 L445.0,275.3 L446.2,275.2 L447.5,275.1 L448.7,275.0 L450.0,274.9 L451.2,274.7 L452.4,274.6 L453.6,274.5 L454.8,274.5 L455.9,274.4 L457.0,274.4 L458.0,274.5 L459.0,274.6 L459.9,274.8 L460.7,275.0 L461.5,275.3 L462.2,275.6 L462.9,275.9 L463.6,276.3 L464.3,276.7 L465.0,277.1 L465.7,277.5 L466.4,277.9 L467.1,278.4 L467.9,278.7 L468.7,279.1 L469.5,279.6 L470.3,280.0 L471.1,280.4 L472.0,280.9 L472.8,281.3 L473.7,281.8 L474.5,282.2 L475.4,282.6 L476.2,283.0 L477.1,283.4 L477.9,283.7 L478.8,284.1 L479.6,284.4 L480.5,284.6 L481.4,284.9 L482.2,285.2 L483.1,285.4 L484.0,285.6 L484.8,285.8 L485.7,286.0 L486.5,286.1 L487.2,286.2 L488.0,286.3 L488.7,286.3 L489.3,286.3 L489.9,286.2 L490.5,286.1 L491.0,286.0 L491.6,285.9 L492.1,285.7 L492.6,285.5 L493.2,285.4 L493.8,285.2 L494.4,285.0 L495.1,284.8 L495.8,284.6 L496.6,284.4 L497.4,284.2 L498.2,283.9 L499.0,283.7 L499.9,283.4 L500.7,283.1 L501.6,282.9 L502.5,282.6 L503.4,282.3 L504.2,282.1 L505.1,281.8 L505.9,281.5 L506.8,281.2 L507.6,281.0 L508.4,280.7 L509.3,280.4 L510.1,280.2 L511.0,279.9 L511.9,279.6 L512.7,279.3 L513.7,279.0 L514.6,278.6 L515.6,278.3 L516.6,277.9 L517.7,277.5 L518.9,277.0 L520.1,276.6 L521.2,276.1 L522.5,275.6 L523.6,275.2 L524.8,274.7 L526.0,274.3 L527.1,273.9 L528.1,273.6 L529.1,273.3 L530.0,273.1 L530.8,272.9 L531.7,272.7 L532.4,272.6 L533.2,272.5 L533.9,272.5 L534.6,272.4 L535.3,272.4 L536.0,272.4 L536.7,272.3 L537.4,272.3 L538.0,272.2 L538.7,272.2 L539.4,272.1 L540.1,272.0 L540.8,271.9 L541.4,271.9 L542.1,271.8 L542.7,271.8 L543.3,271.7 L543.8,271.7 L544.3,271.6 L544.7,271.6 L545.0,271.6 L545.0,271.0 L544.6,271.0 L544.2,270.9 L543.7,270.8 L543.2,270.7 L542.6,270.6 L542.0,270.5 L541.3,270.4 L540.6,270.3 L539.9,270.2 L539.2,270.1 L538.5,270.0 L537.8,270.0 L537.2,270.0 L536.5,269.9 L535.9,269.9 L535.2,269.8 L534.5,269.8 L533.7,269.8 L532.9,269.8 L532.1,269.9 L531.2,269.9 L530.3,270.1 L529.3,270.2 L528.3,270.5 L527.2,270.7 L526.1,271.1 L525.0,271.5 L523.8,271.9 L522.6,272.4 L521.4,272.8 L520.2,273.3 L519.0,273.8 L517.8,274.3 L516.7,274.7 L515.6,275.1 L514.6,275.5 L513.6,275.9 L512.7,276.2 L511.8,276.5 L510.9,276.8 L510.0,277.1 L509.2,277.4 L508.4,277.6 L507.5,277.9 L506.7,278.2 L505.9,278.4 L505.0,278.7 L504.2,279.0 L503.3,279.3 L502.5,279.5 L501.6,279.8 L500.7,280.1 L499.9,280.3 L499.0,280.6 L498.2,280.8 L497.3,281.1 L496.5,281.3 L495.8,281.5 L495.0,281.8 L494.3,282.0 L493.6,282.2 L492.9,282.4 L492.3,282.6 L491.8,282.8 L491.3,283.0 L490.8,283.1 L490.4,283.2 L490.0,283.4 L489.6,283.4 L489.2,283.5 L488.7,283.5 L488.1,283.5 L487.5,283.5 L486.9,283.4 L486.1,283.3 L485.4,283.2 L484.6,283.0 L483.8,282.8 L483.0,282.6 L482.1,282.4 L481.3,282.2 L480.5,281.9 L479.6,281.6 L478.8,281.3 L478.1,281.0 L477.3,280.7 L476.5,280.3 L475.7,279.9 L474.9,279.4 L474.1,279.0 L473.2,278.5 L472.4,278.1 L471.6,277.6 L470.7,277.1 L469.9,276.7 L469.1,276.3 L468.4,275.9 L467.7,275.5 L467.1,275.1 L466.4,274.7 L465.7,274.2 L465.0,273.8 L464.2,273.4 L463.4,272.9 L462.5,272.5 L461.5,272.2 L460.5,271.9 L459.4,271.7 L458.2,271.6 L457.1,271.5 L455.8,271.5 L454.6,271.5 L453.4,271.6 L452.2,271.7 L450.9,271.8 L449.7,271.9 L448.4,272.1 L447.2,272.2 L446.0,272.3 L444.8,272.4 L443.5,272.5 L442.2,272.6 L440.9,272.7 L439.6,272.8 L438.3,273.0 L437.0,273.1 L435.7,273.2 L434.5,273.3 L433.3,273.3 L432.2,273.3 L431.2,273.3 L430.3,273.2 L429.5,273.1 L428.8,272.9 L428.0,272.7 L427.3,272.4 L426.6,272.1 L425.9,271.7 L425.1,271.3 L424.4,270.9 L423.6,270.5 L422.7,270.1 L421.8,269.7 L420.9,269.4 L420.1,269.1 L419.2,268.8 L418.4,268.6 L417.6,268.4 L416.8,268.2 L416.1,268.0 L415.3,267.9 L414.6,267.7 L413.9,267.5 L413.3,267.3 L412.6,267.1 L412.0,266.9 L411.3,266.6 L410.6,266.3 L409.8,266.0 L409.0,265.6 L408.2,265.2 L407.4,264.8 L406.7,264.5 L405.9,264.1 L405.3,263.8 L404.7,263.5 L404.2,263.2 L403.7,263.0 Z" fill="#a33629" opacity="0.7"/>
<ellipse cx="403" cy="265.2" rx="2" ry="4.2" transform="rotate(-62 403 265.2)" fill="#e2b7a8"/>
<path d="M463.5,292.1 L464.7,292.0 L465.9,291.9 L467.1,291.7 L468.3,291.5 L469.5,291.2 L470.7,290.9 L471.8,290.6 L472.9,290.3 L473.9,290.0 L475.0,289.6 L476.0,289.3 L477.0,288.9 L478.0,288.5 L479.1,288.1 L480.3,287.6 L481.4,287.1 L482.6,286.5 L483.8,285.9 L484.9,285.3 L486.0,284.7 L487.1,284.1 L488.1,283.6 L489.1,283.1 L490.1,282.6 L491.0,282.2 L491.8,281.9 L492.7,281.6 L493.5,281.3 L494.3,281.0 L495.0,280.8 L495.7,280.6 L496.3,280.5 L497.0,280.4 L497.6,280.3 L495.6,269.9 L494.7,270.1 L493.9,270.3 L492.9,270.5 L492.0,270.8 L491.0,271.1 L490.1,271.4 L489.2,271.8 L488.2,272.1 L487.1,272.5 L485.9,273.0 L484.7,273.5 L483.6,274.0 L482.4,274.5 L481.2,275.0 L480.1,275.6 L479.0,276.1 L477.9,276.6 L476.9,277.1 L475.9,277.5 L474.9,277.9 L473.9,278.3 L472.9,278.8 L472.0,279.2 L471.1,279.6 L470.2,280.0 L469.3,280.4 L468.5,280.7 L467.6,281.1 L466.8,281.4 L465.9,281.6 L465.1,281.9 L464.1,282.1 L463.1,282.3 L462.0,282.6 Z" fill="#c2bcbd"/><path d="M463.2,290.3 L464.4,290.2 L465.5,290.0 L466.7,289.8 L467.9,289.6 L469.0,289.3 L470.1,289.1 L471.2,288.8 L472.2,288.4 L473.2,288.1 L474.2,287.7 L475.2,287.3 L476.2,287.0 L477.3,286.6 L478.3,286.1 L479.4,285.7 L480.6,285.2 L481.7,284.6 L482.9,284.0 L484.0,283.5 L485.1,282.9 L486.2,282.3 L487.3,281.8 L488.3,281.3 L489.3,280.8 L490.2,280.4 L491.1,280.0 L492.0,279.7 L492.9,279.4 L493.7,279.2 L494.4,278.9 L495.1,278.7 L495.8,278.5 L496.5,278.4 L497.2,278.3 L496.0,271.9 L495.2,272.0 L494.3,272.2 L493.4,272.4 L492.5,272.7 L491.7,273.0 L490.8,273.3 L489.9,273.6 L488.9,274.0 L487.8,274.3 L486.7,274.8 L485.6,275.3 L484.4,275.8 L483.3,276.3 L482.1,276.9 L481.0,277.4 L479.9,278.0 L478.8,278.5 L477.7,279.0 L476.7,279.4 L475.7,279.9 L474.7,280.3 L473.7,280.7 L472.7,281.1 L471.8,281.5 L470.9,281.9 L470.0,282.3 L469.1,282.6 L468.2,282.9 L467.3,283.2 L466.4,283.5 L465.5,283.8 L464.5,284.0 L463.4,284.2 L462.3,284.4 Z" fill="#d5d0d1"/><path d="M462.8,287.6 L463.9,287.5 L465.1,287.3 L466.1,287.1 L467.2,286.9 L468.2,286.6 L469.2,286.3 L470.2,286.0 L471.2,285.6 L472.2,285.3 L473.1,284.9 L474.1,284.5 L475.1,284.1 L476.1,283.7 L477.1,283.3 L478.2,282.9 L479.3,282.4 L480.4,281.8 L481.5,281.3 L482.6,280.7 L483.8,280.2 L484.9,279.6 L486.0,279.1 L487.1,278.6 L488.1,278.1 L489.1,277.7 L490.1,277.3 L491.0,277.0 L491.9,276.7 L492.8,276.4 L493.6,276.1 L494.4,275.9 L495.1,275.7 L495.9,275.5 L496.7,275.4 L496.1,272.3 L495.2,272.4 L494.4,272.6 L493.5,272.8 L492.7,273.1 L491.8,273.4 L490.9,273.7 L490.0,274.0 L489.0,274.4 L488.0,274.7 L486.9,275.2 L485.8,275.7 L484.6,276.2 L483.5,276.7 L482.3,277.3 L481.2,277.8 L480.1,278.4 L479.0,278.9 L477.9,279.4 L476.9,279.8 L475.8,280.3 L474.9,280.7 L473.9,281.1 L472.9,281.5 L472.0,281.9 L471.0,282.3 L470.1,282.7 L469.2,283.0 L468.3,283.3 L467.4,283.6 L466.5,283.9 L465.5,284.2 L464.5,284.4 L463.4,284.6 L462.3,284.8 Z" fill="#e6e2e3" opacity="0.7"/>
<path d="M413.0,326.7 L413.3,326.6 L413.7,326.5 L414.1,326.4 L414.5,326.3 L415.0,326.2 L415.5,326.0 L416.1,325.8 L416.8,325.6 L417.6,325.4 L418.5,325.1 L419.5,324.8 L420.6,324.4 L421.8,324.0 L423.2,323.5 L424.7,322.9 L426.3,322.4 L427.9,321.7 L429.6,321.1 L431.4,320.5 L433.2,319.8 L435.0,319.2 L436.9,318.5 L438.8,317.9 L440.6,317.3 L442.6,316.7 L444.7,316.2 L446.9,315.6 L449.2,315.0 L451.5,314.4 L453.9,313.8 L456.3,313.2 L458.6,312.6 L460.9,312.0 L463.2,311.4 L465.3,310.9 L467.3,310.3 L469.2,309.8 L470.9,309.4 L472.6,308.9 L474.3,308.5 L475.9,308.1 L477.5,307.7 L479.1,307.2 L480.6,306.8 L482.1,306.3 L483.7,305.8 L485.2,305.2 L486.8,304.6 L488.3,303.9 L489.7,303.2 L491.1,302.4 L492.3,301.6 L493.5,300.8 L494.6,300.0 L495.7,299.2 L496.7,298.5 L497.8,297.8 L498.9,297.2 L500.0,296.6 L501.3,296.1 L502.6,295.7 L504.1,295.3 L505.7,295.0 L507.3,294.6 L509.0,294.3 L510.8,294.1 L512.5,293.8 L514.3,293.5 L516.1,293.3 L517.8,293.0 L519.5,292.6 L521.1,292.3 L522.6,291.9 L524.1,291.5 L525.4,291.1 L526.8,290.6 L528.1,290.2 L529.4,289.8 L530.6,289.4 L531.8,288.9 L533.0,288.5 L534.2,288.0 L535.4,287.6 L536.6,287.1 L537.8,286.6 L539.0,286.1 L540.1,285.6 L541.3,285.1 L542.4,284.6 L543.4,284.1 L544.5,283.6 L545.6,283.1 L546.7,282.5 L547.7,282.0 L548.8,281.5 L549.9,281.0 L551.1,280.4 L552.2,279.8 L553.3,279.3 L554.5,278.7 L555.6,278.2 L556.7,277.6 L557.9,277.0 L559.0,276.4 L560.2,275.9 L561.4,275.2 L562.6,274.6 L563.9,274.0 L565.2,273.3 L566.7,272.5 L568.4,271.7 L570.0,270.8 L571.7,270.0 L573.4,269.1 L575.1,268.2 L576.6,267.4 L578.1,266.7 L579.4,266.0 L580.5,265.5 L581.3,265.0 L578.7,259.0 L577.8,259.3 L576.6,259.7 L575.3,260.2 L573.7,260.8 L572.1,261.4 L570.3,262.0 L568.5,262.7 L566.7,263.4 L564.9,264.1 L563.2,264.7 L561.6,265.4 L560.1,266.0 L558.8,266.6 L557.5,267.2 L556.2,267.8 L555.0,268.4 L553.8,269.0 L552.7,269.6 L551.5,270.2 L550.4,270.8 L549.3,271.4 L548.3,272.0 L547.2,272.5 L546.1,273.0 L545.0,273.6 L543.9,274.1 L542.8,274.6 L541.7,275.2 L540.7,275.7 L539.7,276.1 L538.7,276.6 L537.6,277.1 L536.6,277.6 L535.5,278.0 L534.5,278.5 L533.4,278.9 L532.2,279.3 L531.1,279.8 L530.0,280.2 L528.8,280.6 L527.7,281.0 L526.5,281.4 L525.3,281.8 L524.1,282.2 L522.9,282.6 L521.6,283.0 L520.2,283.3 L518.9,283.7 L517.5,284.1 L516.0,284.5 L514.4,284.9 L512.7,285.3 L511.0,285.7 L509.2,286.1 L507.4,286.5 L505.7,287.0 L503.9,287.4 L502.1,287.9 L500.4,288.3 L498.7,288.9 L497.1,289.4 L495.6,290.0 L494.2,290.6 L492.8,291.3 L491.5,291.9 L490.3,292.5 L489.1,293.0 L487.9,293.6 L486.8,294.1 L485.6,294.5 L484.5,295.0 L483.2,295.4 L482.0,295.8 L480.6,296.1 L479.3,296.5 L477.9,296.8 L476.5,297.1 L475.0,297.5 L473.5,297.8 L471.9,298.1 L470.2,298.5 L468.4,298.8 L466.6,299.2 L464.7,299.7 L462.7,300.1 L460.6,300.5 L458.4,301.0 L456.1,301.5 L453.7,302.0 L451.3,302.5 L448.9,303.0 L446.4,303.5 L444.1,304.1 L441.7,304.6 L439.5,305.1 L437.4,305.7 L435.3,306.2 L433.2,306.8 L431.2,307.4 L429.2,308.0 L427.3,308.7 L425.5,309.3 L423.7,309.9 L422.0,310.4 L420.4,311.0 L419.0,311.5 L417.6,312.0 L416.4,312.4 L415.3,312.7 L414.3,313.1 L413.5,313.4 L412.7,313.7 L412.0,314.0 L411.4,314.2 L410.9,314.5 L410.4,314.7 L410.0,314.9 L409.6,315.0 L409.3,315.2 L409.0,315.3 Z" fill="#c2bcbd"/><path d="M412.2,324.5 L412.6,324.4 L412.9,324.3 L413.3,324.2 L413.7,324.1 L414.2,323.9 L414.7,323.8 L415.4,323.6 L416.0,323.4 L416.8,323.1 L417.7,322.8 L418.7,322.5 L419.8,322.1 L421.0,321.7 L422.4,321.2 L423.9,320.7 L425.4,320.1 L427.1,319.5 L428.8,318.9 L430.6,318.2 L432.4,317.6 L434.3,316.9 L436.2,316.3 L438.1,315.7 L440.0,315.1 L442.0,314.5 L444.1,314.0 L446.4,313.4 L448.7,312.8 L451.0,312.2 L453.4,311.6 L455.8,311.1 L458.1,310.5 L460.5,309.9 L462.7,309.4 L464.8,308.8 L466.8,308.3 L468.7,307.8 L470.5,307.4 L472.2,306.9 L473.8,306.5 L475.4,306.1 L477.0,305.7 L478.6,305.3 L480.1,304.9 L481.6,304.4 L483.1,304.0 L484.6,303.4 L486.1,302.9 L487.6,302.2 L488.9,301.5 L490.3,300.8 L491.5,300.0 L492.7,299.3 L493.8,298.5 L494.9,297.8 L496.0,297.1 L497.1,296.5 L498.3,295.8 L499.5,295.3 L500.8,294.8 L502.2,294.3 L503.7,293.9 L505.3,293.5 L507.0,293.2 L508.7,292.9 L510.5,292.6 L512.3,292.3 L514.0,292.0 L515.8,291.7 L517.5,291.4 L519.1,291.0 L520.7,290.6 L522.2,290.2 L523.6,289.8 L524.9,289.4 L526.3,289.0 L527.6,288.6 L528.8,288.2 L530.0,287.8 L531.3,287.3 L532.5,286.9 L533.6,286.5 L534.8,286.0 L536.0,285.5 L537.2,285.1 L538.3,284.6 L539.5,284.1 L540.6,283.6 L541.7,283.1 L542.7,282.6 L543.8,282.1 L544.9,281.6 L545.9,281.0 L547.0,280.5 L548.1,280.0 L549.2,279.5 L550.3,278.9 L551.5,278.3 L552.6,277.8 L553.7,277.2 L554.8,276.7 L556.0,276.1 L557.1,275.5 L558.3,274.9 L559.4,274.3 L560.6,273.7 L561.9,273.1 L563.2,272.5 L564.5,271.8 L566.1,271.0 L567.7,270.2 L569.4,269.4 L571.1,268.6 L572.8,267.7 L574.5,266.9 L576.1,266.2 L577.5,265.5 L578.8,264.8 L580.0,264.3 L580.8,263.9 L579.2,260.1 L578.3,260.5 L577.1,260.9 L575.8,261.5 L574.3,262.1 L572.6,262.7 L570.9,263.4 L569.1,264.1 L567.3,264.8 L565.6,265.5 L563.9,266.2 L562.3,266.9 L560.8,267.5 L559.5,268.1 L558.2,268.7 L557.0,269.4 L555.7,270.0 L554.6,270.6 L553.4,271.2 L552.3,271.7 L551.2,272.3 L550.1,272.9 L549.0,273.5 L547.9,274.0 L546.8,274.5 L545.7,275.1 L544.6,275.6 L543.5,276.1 L542.5,276.7 L541.4,277.2 L540.4,277.7 L539.4,278.1 L538.3,278.6 L537.3,279.1 L536.2,279.6 L535.1,280.0 L534.0,280.5 L532.9,280.9 L531.7,281.3 L530.6,281.8 L529.4,282.2 L528.2,282.6 L527.1,283.0 L525.9,283.4 L524.6,283.8 L523.3,284.2 L522.0,284.6 L520.7,285.0 L519.3,285.4 L517.9,285.7 L516.3,286.1 L514.7,286.5 L513.0,286.9 L511.3,287.2 L509.5,287.6 L507.7,288.0 L506.0,288.4 L504.2,288.8 L502.5,289.3 L500.8,289.7 L499.2,290.2 L497.7,290.8 L496.2,291.4 L494.9,292.0 L493.6,292.6 L492.3,293.3 L491.1,293.9 L489.9,294.5 L488.7,295.1 L487.6,295.7 L486.4,296.2 L485.2,296.7 L483.9,297.1 L482.6,297.6 L481.2,298.0 L479.8,298.3 L478.4,298.7 L477.0,299.1 L475.5,299.4 L473.9,299.7 L472.3,300.1 L470.6,300.5 L468.9,300.8 L467.1,301.3 L465.2,301.7 L463.2,302.1 L461.1,302.6 L458.9,303.1 L456.6,303.6 L454.2,304.1 L451.8,304.6 L449.4,305.2 L447.0,305.7 L444.6,306.2 L442.3,306.8 L440.1,307.3 L438.0,307.9 L435.9,308.5 L433.9,309.1 L431.9,309.7 L430.0,310.3 L428.1,310.9 L426.2,311.5 L424.5,312.1 L422.8,312.7 L421.2,313.3 L419.8,313.8 L418.4,314.2 L417.2,314.7 L416.1,315.0 L415.1,315.4 L414.3,315.7 L413.5,316.0 L412.8,316.2 L412.2,316.5 L411.7,316.7 L411.2,316.9 L410.8,317.1 L410.4,317.2 L410.1,317.3 L409.8,317.5 Z" fill="#d5d0d1"/><path d="M411.1,321.3 L411.4,321.2 L411.8,321.1 L412.2,321.0 L412.6,320.8 L413.1,320.7 L413.6,320.5 L414.2,320.3 L414.9,320.0 L415.7,319.8 L416.5,319.5 L417.5,319.1 L418.6,318.8 L419.9,318.3 L421.2,317.9 L422.7,317.3 L424.3,316.8 L425.9,316.2 L427.7,315.5 L429.5,314.9 L431.3,314.3 L433.2,313.6 L435.2,313.0 L437.1,312.4 L439.1,311.8 L441.1,311.3 L443.3,310.7 L445.6,310.2 L447.9,309.6 L450.3,309.0 L452.7,308.5 L455.1,307.9 L457.4,307.4 L459.7,306.8 L462.0,306.3 L464.1,305.8 L466.1,305.3 L468.0,304.9 L469.8,304.4 L471.5,304.0 L473.1,303.6 L474.8,303.2 L476.3,302.9 L477.8,302.5 L479.3,302.1 L480.8,301.7 L482.2,301.3 L483.7,300.8 L485.1,300.3 L486.5,299.7 L487.8,299.1 L489.0,298.5 L490.2,297.8 L491.4,297.1 L492.6,296.4 L493.7,295.8 L494.9,295.1 L496.1,294.4 L497.4,293.8 L498.7,293.2 L500.1,292.7 L501.6,292.2 L503.2,291.8 L504.8,291.4 L506.5,291.0 L508.3,290.7 L510.0,290.3 L511.8,290.0 L513.6,289.7 L515.3,289.3 L517.0,289.0 L518.6,288.6 L520.1,288.3 L521.5,287.9 L522.9,287.5 L524.2,287.1 L525.5,286.7 L526.8,286.3 L528.0,285.8 L529.2,285.4 L530.4,285.0 L531.6,284.6 L532.8,284.1 L533.9,283.7 L535.1,283.2 L536.3,282.8 L537.4,282.3 L538.5,281.8 L539.6,281.4 L540.6,280.9 L541.7,280.4 L542.7,279.9 L543.8,279.3 L544.8,278.8 L545.9,278.3 L547.0,277.8 L548.1,277.2 L549.2,276.7 L550.3,276.1 L551.5,275.6 L552.6,275.0 L553.7,274.4 L554.8,273.9 L556.0,273.3 L557.1,272.7 L558.3,272.1 L559.5,271.5 L560.8,270.9 L562.1,270.2 L563.5,269.6 L565.1,268.9 L566.7,268.1 L568.5,267.3 L570.2,266.5 L572.0,265.8 L573.7,265.0 L575.3,264.3 L576.8,263.7 L578.1,263.1 L579.2,262.6 L580.1,262.2 L579.3,260.4 L578.4,260.7 L577.3,261.2 L575.9,261.7 L574.4,262.3 L572.8,263.0 L571.0,263.7 L569.3,264.4 L567.5,265.1 L565.7,265.8 L564.0,266.5 L562.4,267.2 L561.0,267.8 L559.7,268.5 L558.4,269.1 L557.1,269.7 L555.9,270.3 L554.7,270.9 L553.6,271.5 L552.5,272.1 L551.4,272.6 L550.3,273.2 L549.2,273.8 L548.1,274.3 L547.0,274.9 L545.8,275.4 L544.8,275.9 L543.7,276.5 L542.6,277.0 L541.6,277.5 L540.5,278.0 L539.5,278.5 L538.5,278.9 L537.4,279.4 L536.3,279.9 L535.2,280.3 L534.1,280.8 L533.0,281.2 L531.8,281.7 L530.7,282.1 L529.5,282.5 L528.4,282.9 L527.2,283.3 L526.0,283.7 L524.7,284.1 L523.5,284.5 L522.1,284.9 L520.8,285.3 L519.4,285.7 L517.9,286.1 L516.4,286.5 L514.8,286.8 L513.1,287.2 L511.3,287.6 L509.6,287.9 L507.8,288.3 L506.0,288.7 L504.3,289.1 L502.6,289.6 L500.9,290.0 L499.3,290.5 L497.8,291.1 L496.4,291.7 L495.0,292.3 L493.7,292.9 L492.5,293.6 L491.3,294.2 L490.1,294.8 L488.9,295.4 L487.7,296.0 L486.6,296.5 L485.3,297.0 L484.0,297.5 L482.7,297.9 L481.3,298.3 L479.9,298.7 L478.5,299.1 L477.1,299.5 L475.6,299.8 L474.0,300.2 L472.4,300.5 L470.7,300.9 L469.0,301.3 L467.2,301.7 L465.3,302.1 L463.3,302.6 L461.2,303.1 L459.0,303.5 L456.7,304.0 L454.3,304.6 L451.9,305.1 L449.5,305.6 L447.1,306.2 L444.7,306.7 L442.4,307.3 L440.2,307.8 L438.1,308.4 L436.1,308.9 L434.1,309.5 L432.1,310.1 L430.1,310.8 L428.2,311.4 L426.4,312.0 L424.7,312.6 L423.0,313.2 L421.4,313.7 L419.9,314.3 L418.6,314.7 L417.4,315.1 L416.3,315.5 L415.3,315.9 L414.4,316.2 L413.6,316.5 L413.0,316.7 L412.4,317.0 L411.8,317.2 L411.4,317.3 L410.9,317.5 L410.6,317.7 L410.2,317.8 L409.9,317.9 Z" fill="#e6e2e3" opacity="0.7"/>
<ellipse cx="411.2" cy="321" rx="2" ry="6" transform="rotate(20 411.2 321)" fill="#e6e4e4"/>
<path d="M416.1,325.6 L416.4,325.6 L416.8,325.7 L417.2,325.7 L417.6,325.8 L418.2,325.9 L418.7,325.9 L419.3,326.0 L419.9,326.1 L420.5,326.1 L421.2,326.2 L421.8,326.2 L422.4,326.3 L423.0,326.3 L423.7,326.3 L424.3,326.3 L425.0,326.3 L425.7,326.4 L426.4,326.4 L427.1,326.3 L427.8,326.3 L428.5,326.3 L429.3,326.3 L430.0,326.2 L430.7,326.2 L431.4,326.1 L432.1,326.0 L432.8,326.0 L433.5,325.9 L434.3,325.8 L435.0,325.7 L435.8,325.6 L436.7,325.4 L437.5,325.2 L438.4,325.0 L439.4,324.8 L440.4,324.5 L441.5,324.2 L442.6,323.9 L443.7,323.5 L444.8,323.1 L445.9,322.7 L447.1,322.2 L448.2,321.8 L449.4,321.4 L450.5,321.0 L451.6,320.6 L452.7,320.2 L453.8,319.8 L455.0,319.5 L456.2,319.2 L457.4,318.8 L458.7,318.5 L459.9,318.2 L461.2,317.8 L462.5,317.5 L463.8,317.1 L465.0,316.8 L466.2,316.4 L467.4,316.0 L468.5,315.7 L469.6,315.2 L470.5,314.8 L471.4,314.4 L472.3,314.0 L473.1,313.5 L473.8,313.1 L474.5,312.7 L475.2,312.3 L475.8,311.9 L476.5,311.5 L477.1,311.2 L477.8,310.9 L478.5,310.5 L479.2,310.2 L479.8,309.9 L480.5,309.6 L481.2,309.3 L481.9,309.0 L482.6,308.7 L483.4,308.4 L484.2,308.1 L485.0,307.8 L485.9,307.5 L486.8,307.1 L487.9,306.8 L488.9,306.4 L490.1,306.0 L491.3,305.6 L492.5,305.3 L493.7,304.9 L494.9,304.5 L496.1,304.1 L497.3,303.8 L498.4,303.5 L499.5,303.2 L500.5,302.9 L501.4,302.7 L502.2,302.5 L503.1,302.4 L503.9,302.2 L504.7,302.1 L505.5,302.0 L506.3,301.8 L507.1,301.7 L507.9,301.6 L508.8,301.5 L509.7,301.3 L510.6,301.2 L511.4,301.0 L512.2,300.9 L513.1,300.8 L513.9,300.6 L514.7,300.5 L515.6,300.3 L516.5,300.2 L517.4,300.0 L518.4,299.8 L519.4,299.6 L520.5,299.4 L521.6,299.1 L522.7,298.8 L523.9,298.5 L525.2,298.2 L526.4,297.8 L527.8,297.5 L529.1,297.1 L530.5,296.7 L531.8,296.3 L533.2,295.8 L534.5,295.4 L535.8,294.9 L537.1,294.4 L538.4,293.9 L539.6,293.3 L540.8,292.8 L542.0,292.2 L543.2,291.6 L544.3,291.0 L545.4,290.4 L546.4,289.9 L547.5,289.3 L548.5,288.8 L549.5,288.2 L550.6,287.7 L551.6,287.2 L552.8,286.6 L553.9,286.0 L555.1,285.4 L556.3,284.8 L557.5,284.2 L558.7,283.6 L559.9,283.0 L561.1,282.4 L562.3,281.8 L563.5,281.1 L564.7,280.5 L565.8,279.9 L567.0,279.2 L568.2,278.6 L569.3,278.0 L570.5,277.4 L571.7,276.7 L572.8,276.1 L573.9,275.4 L575.0,274.7 L576.0,274.0 L577.0,273.3 L578.0,272.6 L578.9,271.8 L579.7,270.9 L580.5,270.0 L581.2,269.2 L581.8,268.3 L582.4,267.4 L582.9,266.6 L583.4,265.8 L583.8,265.1 L584.1,264.4 L584.5,263.9 L584.8,263.5 L584.0,262.5 L583.5,262.7 L582.9,262.9 L582.2,263.2 L581.5,263.4 L580.6,263.7 L579.7,264.0 L578.8,264.3 L577.8,264.6 L576.8,264.9 L575.9,265.2 L574.9,265.5 L574.0,265.8 L573.1,266.2 L572.1,266.5 L571.0,266.9 L569.9,267.3 L568.8,267.8 L567.6,268.2 L566.4,268.7 L565.2,269.1 L564.0,269.6 L562.7,270.1 L561.5,270.6 L560.3,271.1 L559.1,271.6 L557.9,272.1 L556.7,272.6 L555.4,273.0 L554.1,273.5 L552.9,274.1 L551.6,274.6 L550.3,275.1 L549.0,275.7 L547.7,276.3 L546.5,276.9 L545.2,277.5 L544.0,278.2 L542.8,278.9 L541.7,279.6 L540.6,280.3 L539.6,281.0 L538.6,281.8 L537.6,282.5 L536.7,283.1 L535.8,283.8 L534.8,284.4 L533.9,285.0 L532.9,285.6 L531.9,286.2 L530.8,286.8 L529.6,287.4 L528.5,287.9 L527.3,288.5 L526.1,289.1 L524.9,289.7 L523.8,290.2 L522.6,290.7 L521.5,291.1 L520.4,291.5 L519.4,291.9 L518.5,292.2 L517.6,292.5 L516.8,292.7 L516.0,292.9 L515.2,293.0 L514.4,293.2 L513.6,293.3 L512.8,293.4 L512.0,293.5 L511.1,293.6 L510.3,293.7 L509.4,293.8 L508.6,293.9 L507.8,294.0 L507.0,294.1 L506.2,294.2 L505.4,294.2 L504.6,294.3 L503.7,294.4 L502.8,294.5 L501.8,294.6 L500.8,294.7 L499.8,294.9 L498.7,295.1 L497.6,295.3 L496.4,295.6 L495.2,295.9 L493.9,296.2 L492.7,296.6 L491.4,296.9 L490.1,297.3 L488.9,297.7 L487.7,298.0 L486.5,298.3 L485.4,298.6 L484.4,298.9 L483.4,299.1 L482.5,299.3 L481.6,299.5 L480.8,299.7 L480.0,299.8 L479.2,300.0 L478.4,300.2 L477.6,300.3 L476.7,300.5 L475.9,300.7 L475.1,300.9 L474.2,301.1 L473.3,301.4 L472.5,301.6 L471.6,301.9 L470.8,302.1 L470.0,302.4 L469.2,302.6 L468.4,302.9 L467.6,303.2 L466.8,303.4 L466.0,303.7 L465.2,304.0 L464.3,304.3 L463.3,304.7 L462.3,305.1 L461.2,305.6 L460.0,306.0 L458.8,306.5 L457.6,307.0 L456.3,307.5 L455.1,308.0 L453.8,308.6 L452.6,309.1 L451.4,309.6 L450.2,310.2 L449.0,310.7 L447.8,311.3 L446.6,311.8 L445.5,312.4 L444.3,313.0 L443.3,313.5 L442.2,314.1 L441.2,314.6 L440.2,315.1 L439.3,315.5 L438.4,315.9 L437.6,316.3 L436.8,316.6 L436.1,316.9 L435.4,317.1 L434.7,317.3 L434.0,317.5 L433.4,317.7 L432.7,317.9 L432.0,318.0 L431.4,318.2 L430.7,318.4 L430.0,318.6 L429.3,318.8 L428.6,319.1 L427.9,319.3 L427.2,319.6 L426.6,319.8 L425.9,320.0 L425.3,320.3 L424.6,320.5 L424.0,320.8 L423.4,321.0 L422.8,321.3 L422.2,321.5 L421.6,321.7 L421.0,322.0 L420.5,322.2 L419.9,322.5 L419.4,322.7 L418.8,323.0 L418.3,323.3 L417.8,323.5 L417.3,323.7 L416.9,324.0 L416.5,324.1 L416.2,324.3 L415.9,324.4 Z" fill="#2e8c35"/><path d="M416.1,325.3 L416.3,325.3 L416.7,325.4 L417.1,325.4 L417.6,325.4 L418.1,325.4 L418.6,325.4 L419.2,325.4 L419.8,325.4 L420.4,325.4 L421.0,325.4 L421.6,325.4 L422.2,325.4 L422.8,325.3 L423.5,325.3 L424.1,325.3 L424.8,325.2 L425.5,325.2 L426.1,325.1 L426.8,325.1 L427.6,325.0 L428.3,325.0 L429.0,324.9 L429.7,324.8 L430.4,324.7 L431.1,324.6 L431.8,324.5 L432.5,324.4 L433.2,324.3 L433.9,324.2 L434.7,324.1 L435.5,324.0 L436.3,323.8 L437.1,323.6 L438.0,323.4 L438.9,323.2 L439.9,322.9 L440.9,322.6 L441.9,322.2 L443.0,321.8 L444.1,321.4 L445.2,320.9 L446.3,320.5 L447.4,320.0 L448.6,319.6 L449.7,319.1 L450.9,318.7 L452.0,318.3 L453.1,317.9 L454.3,317.5 L455.4,317.1 L456.7,316.8 L457.9,316.4 L459.2,316.0 L460.5,315.7 L461.8,315.3 L463.0,314.9 L464.3,314.5 L465.5,314.2 L466.6,313.8 L467.7,313.4 L468.7,313.0 L469.6,312.6 L470.5,312.2 L471.4,311.8 L472.1,311.4 L472.9,311.0 L473.6,310.6 L474.3,310.3 L475.0,309.9 L475.7,309.6 L476.4,309.2 L477.1,308.9 L477.8,308.6 L478.5,308.3 L479.2,308.0 L479.9,307.7 L480.6,307.5 L481.3,307.2 L482.1,306.9 L482.9,306.7 L483.7,306.4 L484.5,306.1 L485.4,305.8 L486.3,305.5 L487.4,305.1 L488.5,304.8 L489.6,304.4 L490.8,304.0 L492.0,303.7 L493.3,303.3 L494.5,302.9 L495.7,302.6 L496.9,302.2 L498.0,301.9 L499.1,301.6 L500.1,301.4 L501.1,301.1 L502.0,301.0 L502.8,300.8 L503.7,300.7 L504.5,300.5 L505.3,300.4 L506.1,300.3 L506.9,300.2 L507.8,300.1 L508.6,300.0 L509.5,299.9 L510.3,299.7 L511.2,299.6 L512.0,299.4 L512.8,299.3 L513.7,299.2 L514.5,299.0 L515.4,298.9 L516.2,298.8 L517.1,298.6 L518.1,298.4 L519.0,298.2 L520.1,297.9 L521.1,297.7 L522.3,297.3 L523.4,297.0 L524.6,296.7 L525.9,296.3 L527.2,295.9 L528.5,295.5 L529.8,295.0 L531.1,294.6 L532.5,294.1 L533.7,293.7 L535.0,293.2 L536.3,292.6 L537.5,292.1 L538.7,291.5 L539.8,291.0 L541.0,290.4 L542.1,289.8 L543.1,289.2 L544.2,288.6 L545.3,288.0 L546.3,287.4 L547.4,286.8 L548.4,286.2 L549.5,285.7 L550.6,285.1 L551.8,284.5 L552.9,284.0 L554.1,283.4 L555.3,282.8 L556.5,282.2 L557.8,281.6 L559.0,281.0 L560.2,280.4 L561.4,279.8 L562.6,279.2 L563.8,278.6 L565.0,278.0 L566.2,277.4 L567.3,276.8 L568.5,276.2 L569.7,275.6 L570.9,275.0 L572.0,274.4 L573.1,273.8 L574.2,273.2 L575.3,272.5 L576.3,271.9 L577.2,271.2 L578.1,270.5 L578.9,269.8 L579.7,269.0 L580.5,268.2 L581.2,267.5 L581.8,266.7 L582.4,266.0 L583.0,265.3 L583.5,264.7 L583.9,264.1 L584.3,263.6 L584.6,263.3 L584.2,262.7 L583.7,262.9 L583.2,263.2 L582.5,263.5 L581.8,263.9 L581.1,264.3 L580.2,264.7 L579.4,265.1 L578.5,265.5 L577.6,265.9 L576.6,266.4 L575.7,266.8 L574.8,267.2 L573.9,267.6 L572.9,268.0 L571.8,268.5 L570.7,268.9 L569.6,269.4 L568.4,269.9 L567.2,270.4 L566.0,270.9 L564.8,271.4 L563.6,272.0 L562.4,272.5 L561.2,273.0 L560.0,273.5 L558.8,274.0 L557.5,274.5 L556.3,275.0 L555.0,275.6 L553.8,276.1 L552.5,276.6 L551.2,277.2 L550.0,277.7 L548.7,278.3 L547.5,278.9 L546.3,279.5 L545.1,280.2 L544.0,280.9 L542.9,281.5 L541.8,282.2 L540.8,282.9 L539.7,283.6 L538.7,284.3 L537.8,284.9 L536.8,285.6 L535.8,286.2 L534.8,286.8 L533.7,287.4 L532.6,287.9 L531.5,288.5 L530.3,289.0 L529.1,289.6 L527.9,290.2 L526.7,290.7 L525.5,291.2 L524.3,291.7 L523.1,292.2 L522.0,292.6 L520.9,293.0 L519.9,293.3 L518.9,293.7 L518.0,293.9 L517.1,294.1 L516.3,294.3 L515.4,294.5 L514.6,294.6 L513.8,294.7 L513.0,294.8 L512.2,294.9 L511.4,295.0 L510.5,295.2 L509.7,295.3 L508.8,295.4 L508.0,295.5 L507.2,295.6 L506.4,295.7 L505.6,295.7 L504.7,295.8 L503.9,295.9 L503.0,296.0 L502.1,296.1 L501.1,296.3 L500.1,296.4 L499.1,296.6 L498.0,296.9 L496.8,297.2 L495.6,297.5 L494.4,297.8 L493.1,298.2 L491.8,298.5 L490.6,298.9 L489.4,299.3 L488.1,299.6 L487.0,299.9 L485.9,300.2 L484.9,300.5 L483.9,300.8 L483.0,301.0 L482.1,301.2 L481.3,301.4 L480.5,301.6 L479.7,301.8 L478.9,302.0 L478.1,302.2 L477.4,302.4 L476.6,302.6 L475.8,302.8 L474.9,303.1 L474.1,303.4 L473.3,303.6 L472.4,303.9 L471.7,304.2 L470.9,304.5 L470.1,304.7 L469.3,305.0 L468.6,305.3 L467.8,305.6 L466.9,305.9 L466.1,306.3 L465.1,306.6 L464.1,307.0 L463.1,307.4 L461.9,307.8 L460.8,308.2 L459.6,308.7 L458.3,309.2 L457.1,309.6 L455.8,310.1 L454.5,310.6 L453.3,311.1 L452.1,311.6 L450.9,312.1 L449.7,312.6 L448.6,313.1 L447.4,313.7 L446.2,314.2 L445.1,314.7 L444.0,315.3 L442.9,315.8 L441.9,316.3 L440.9,316.7 L439.9,317.2 L439.0,317.6 L438.1,317.9 L437.3,318.2 L436.5,318.5 L435.8,318.7 L435.1,318.9 L434.4,319.1 L433.7,319.3 L433.0,319.5 L432.3,319.6 L431.6,319.8 L431.0,319.9 L430.3,320.1 L429.6,320.3 L428.9,320.5 L428.2,320.7 L427.5,320.9 L426.8,321.1 L426.1,321.3 L425.5,321.5 L424.8,321.7 L424.2,321.9 L423.6,322.1 L422.9,322.3 L422.3,322.5 L421.8,322.6 L421.2,322.8 L420.6,323.0 L420.0,323.2 L419.5,323.4 L418.9,323.6 L418.4,323.8 L417.9,324.0 L417.4,324.1 L416.9,324.3 L416.6,324.4 L416.2,324.6 L415.9,324.7 Z" fill="#389b3d"/><path d="M416.0,325.0 L416.3,325.0 L416.6,324.9 L417.0,324.9 L417.5,324.8 L418.0,324.7 L418.5,324.7 L419.1,324.6 L419.6,324.5 L420.2,324.4 L420.8,324.3 L421.4,324.2 L422.0,324.1 L422.6,324.0 L423.2,323.9 L423.9,323.8 L424.5,323.7 L425.2,323.6 L425.8,323.5 L426.5,323.4 L427.2,323.3 L427.9,323.1 L428.6,323.0 L429.3,322.9 L430.0,322.7 L430.7,322.6 L431.4,322.5 L432.1,322.3 L432.8,322.2 L433.5,322.1 L434.2,321.9 L435.0,321.8 L435.7,321.6 L436.5,321.4 L437.3,321.2 L438.2,320.9 L439.1,320.6 L440.0,320.3 L441.0,319.9 L442.0,319.5 L443.1,319.1 L444.2,318.6 L445.3,318.1 L446.4,317.7 L447.5,317.2 L448.7,316.7 L449.8,316.2 L451.0,315.7 L452.1,315.3 L453.3,314.9 L454.5,314.4 L455.7,314.0 L457.0,313.6 L458.3,313.2 L459.5,312.7 L460.8,312.3 L462.0,311.9 L463.2,311.5 L464.4,311.1 L465.5,310.7 L466.5,310.3 L467.5,310.0 L468.4,309.6 L469.3,309.2 L470.1,308.9 L470.9,308.5 L471.6,308.2 L472.4,307.9 L473.1,307.5 L473.8,307.2 L474.6,306.9 L475.3,306.6 L476.1,306.3 L476.9,306.0 L477.6,305.7 L478.4,305.5 L479.1,305.2 L479.9,305.0 L480.6,304.8 L481.4,304.5 L482.2,304.3 L483.0,304.1 L483.8,303.8 L484.7,303.5 L485.7,303.2 L486.7,302.9 L487.8,302.6 L488.9,302.3 L490.1,301.9 L491.4,301.5 L492.6,301.1 L493.9,300.8 L495.1,300.4 L496.3,300.1 L497.5,299.8 L498.6,299.5 L499.7,299.2 L500.6,299.0 L501.6,298.8 L502.5,298.7 L503.4,298.6 L504.2,298.5 L505.0,298.4 L505.9,298.3 L506.7,298.2 L507.5,298.1 L508.3,298.0 L509.2,297.9 L510.0,297.7 L510.9,297.6 L511.7,297.5 L512.6,297.3 L513.4,297.2 L514.2,297.1 L515.0,297.0 L515.9,296.8 L516.7,296.7 L517.6,296.5 L518.6,296.3 L519.5,296.0 L520.6,295.7 L521.6,295.4 L522.8,295.0 L524.0,294.6 L525.2,294.2 L526.4,293.8 L527.7,293.3 L529.0,292.8 L530.2,292.4 L531.5,291.8 L532.7,291.3 L534.0,290.8 L535.1,290.3 L536.3,289.7 L537.4,289.1 L538.5,288.5 L539.5,287.9 L540.6,287.3 L541.6,286.7 L542.7,286.0 L543.7,285.4 L544.8,284.7 L545.8,284.1 L546.9,283.5 L548.1,282.9 L549.2,282.3 L550.4,281.7 L551.6,281.2 L552.8,280.6 L554.1,280.0 L555.3,279.5 L556.5,278.9 L557.8,278.3 L559.0,277.8 L560.2,277.2 L561.4,276.6 L562.6,276.1 L563.8,275.5 L565.0,275.0 L566.2,274.4 L567.4,273.8 L568.6,273.3 L569.8,272.7 L570.9,272.2 L572.0,271.6 L573.1,271.1 L574.2,270.5 L575.2,269.9 L576.1,269.4 L577.0,268.8 L577.9,268.2 L578.8,267.6 L579.6,267.0 L580.4,266.4 L581.1,265.8 L581.8,265.2 L582.5,264.7 L583.1,264.2 L583.6,263.7 L584.0,263.3 L584.4,263.0 L584.2,262.8 L583.8,263.0 L583.2,263.3 L582.6,263.6 L581.9,264.0 L581.1,264.3 L580.3,264.8 L579.5,265.2 L578.6,265.6 L577.7,266.1 L576.8,266.5 L575.8,267.0 L574.9,267.4 L574.0,267.8 L573.0,268.2 L571.9,268.7 L570.8,269.2 L569.7,269.7 L568.5,270.2 L567.4,270.7 L566.2,271.2 L564.9,271.7 L563.7,272.2 L562.5,272.7 L561.3,273.3 L560.1,273.8 L558.9,274.3 L557.7,274.8 L556.4,275.3 L555.2,275.9 L553.9,276.4 L552.7,276.9 L551.4,277.5 L550.1,278.1 L548.9,278.6 L547.7,279.2 L546.5,279.8 L545.3,280.5 L544.1,281.2 L543.0,281.8 L542.0,282.5 L540.9,283.2 L539.9,283.9 L538.9,284.6 L537.9,285.2 L536.9,285.8 L535.9,286.5 L534.9,287.1 L533.9,287.6 L532.8,288.2 L531.6,288.7 L530.4,289.3 L529.2,289.9 L528.0,290.4 L526.8,290.9 L525.6,291.4 L524.4,291.9 L523.2,292.4 L522.1,292.8 L521.0,293.2 L519.9,293.6 L519.0,293.9 L518.0,294.1 L517.2,294.3 L516.3,294.5 L515.5,294.7 L514.7,294.8 L513.9,294.9 L513.1,295.0 L512.2,295.1 L511.4,295.3 L510.6,295.4 L509.7,295.5 L508.9,295.6 L508.0,295.7 L507.2,295.8 L506.4,295.9 L505.6,296.0 L504.8,296.1 L503.9,296.1 L503.0,296.2 L502.1,296.4 L501.2,296.5 L500.2,296.7 L499.1,296.9 L498.0,297.1 L496.9,297.4 L495.7,297.7 L494.4,298.1 L493.2,298.4 L491.9,298.8 L490.7,299.1 L489.4,299.5 L488.2,299.8 L487.1,300.2 L486.0,300.5 L484.9,300.8 L484.0,301.0 L483.1,301.3 L482.2,301.5 L481.4,301.7 L480.6,301.9 L479.8,302.1 L479.0,302.3 L478.2,302.5 L477.5,302.7 L476.7,302.9 L475.9,303.1 L475.0,303.4 L474.2,303.6 L473.4,303.9 L472.6,304.2 L471.8,304.5 L471.0,304.8 L470.3,305.1 L469.5,305.3 L468.7,305.6 L467.9,305.9 L467.1,306.3 L466.2,306.6 L465.3,306.9 L464.3,307.3 L463.2,307.7 L462.1,308.1 L460.9,308.6 L459.7,309.0 L458.4,309.5 L457.2,310.0 L455.9,310.4 L454.7,310.9 L453.4,311.4 L452.2,311.9 L451.0,312.4 L449.8,312.9 L448.7,313.4 L447.5,313.9 L446.4,314.5 L445.2,315.0 L444.1,315.5 L443.1,316.0 L442.0,316.5 L441.0,317.0 L440.0,317.4 L439.1,317.8 L438.2,318.2 L437.4,318.5 L436.6,318.7 L435.9,319.0 L435.1,319.2 L434.4,319.4 L433.7,319.5 L433.1,319.7 L432.4,319.8 L431.7,320.0 L431.0,320.2 L430.3,320.3 L429.6,320.5 L428.9,320.7 L428.2,320.9 L427.5,321.1 L426.8,321.3 L426.2,321.5 L425.5,321.7 L424.9,321.9 L424.2,322.1 L423.6,322.2 L423.0,322.4 L422.4,322.6 L421.8,322.8 L421.2,323.0 L420.6,323.1 L420.1,323.3 L419.5,323.5 L418.9,323.7 L418.4,323.9 L417.9,324.0 L417.4,324.2 L417.0,324.4 L416.6,324.5 L416.2,324.6 L415.9,324.7 Z" fill="#43a847" opacity="0.7"/>
<path d="M383.0,368.8 L383.5,368.7 L384.2,368.5 L384.9,368.3 L385.8,368.1 L386.8,367.9 L387.8,367.7 L388.9,367.4 L390.1,367.1 L391.3,366.7 L392.6,366.3 L393.8,365.9 L395.1,365.4 L396.4,364.8 L397.7,364.2 L399.1,363.5 L400.4,362.8 L401.8,362.1 L403.2,361.4 L404.6,360.6 L406.0,359.9 L407.4,359.1 L408.7,358.4 L410.1,357.7 L411.4,357.1 L412.7,356.4 L414.0,355.7 L415.3,355.0 L416.6,354.3 L417.8,353.6 L419.0,353.0 L420.2,352.3 L421.4,351.7 L422.6,351.2 L423.8,350.7 L425.1,350.2 L426.3,349.8 L427.7,349.4 L429.1,349.1 L430.6,348.8 L432.1,348.6 L433.7,348.4 L435.4,348.3 L437.1,348.1 L438.8,347.9 L440.4,347.7 L442.1,347.5 L443.7,347.2 L445.3,346.8 L446.8,346.5 L448.2,346.1 L449.5,345.7 L450.8,345.3 L452.0,344.9 L453.2,344.5 L454.4,344.0 L455.6,343.5 L456.7,343.1 L457.9,342.6 L459.1,342.1 L460.2,341.5 L461.5,341.0 L462.7,340.4 L463.9,339.8 L465.1,339.2 L466.3,338.6 L467.6,338.0 L468.8,337.3 L470.0,336.6 L471.3,335.9 L472.5,335.2 L473.8,334.4 L475.1,333.6 L476.3,332.7 L477.6,331.8 L478.8,330.9 L480.0,329.9 L481.2,329.0 L482.3,328.0 L483.5,327.1 L484.6,326.1 L485.8,325.2 L486.9,324.2 L488.1,323.3 L489.4,322.3 L490.8,321.3 L492.2,320.1 L493.6,318.9 L495.0,317.7 L496.4,316.5 L497.8,315.4 L499.1,314.3 L500.3,313.4 L501.5,312.6 L502.6,312.0 L503.5,311.6 L504.2,311.4 L504.9,311.3 L505.6,311.3 L506.4,311.4 L507.4,311.6 L508.5,311.9 L509.8,312.4 L511.1,312.9 L512.6,313.5 L514.1,314.1 L515.7,314.6 L517.4,315.1 L519.0,315.4 L520.6,315.6 L522.0,315.8 L523.4,316.0 L524.8,316.2 L526.2,316.4 L527.6,316.5 L529.0,316.6 L530.5,316.6 L532.0,316.5 L533.6,316.4 L535.1,316.2 L536.7,315.8 L538.3,315.3 L539.8,314.8 L541.2,314.1 L542.6,313.4 L543.9,312.6 L545.2,311.9 L546.3,311.1 L547.5,310.3 L548.6,309.6 L549.6,308.9 L550.7,308.1 L551.7,307.4 L552.9,306.7 L554.0,305.9 L555.3,305.1 L556.5,304.3 L557.7,303.4 L558.9,302.5 L560.1,301.7 L561.3,300.8 L562.5,299.9 L563.6,299.0 L564.8,298.2 L566.0,297.3 L567.1,296.4 L568.2,295.5 L569.3,294.6 L570.3,293.8 L571.3,292.9 L572.3,292.1 L573.3,291.2 L574.3,290.4 L575.3,289.5 L576.3,288.7 L577.4,287.8 L578.5,287.0 L579.7,286.0 L581.1,285.0 L582.5,283.9 L584.1,282.8 L585.7,281.6 L587.3,280.5 L588.8,279.4 L590.3,278.3 L591.6,277.4 L592.8,276.5 L593.8,275.8 L594.7,275.2 L589.3,266.8 L588.5,267.3 L587.4,267.9 L586.1,268.6 L584.6,269.4 L583.0,270.3 L581.4,271.3 L579.6,272.2 L577.9,273.2 L576.2,274.2 L574.5,275.2 L573.0,276.1 L571.5,277.0 L570.2,277.9 L568.9,278.8 L567.7,279.6 L566.5,280.4 L565.4,281.3 L564.3,282.1 L563.3,282.8 L562.2,283.6 L561.2,284.4 L560.2,285.2 L559.1,285.9 L558.0,286.7 L556.9,287.5 L555.8,288.3 L554.6,289.2 L553.4,290.0 L552.3,290.9 L551.1,291.7 L549.9,292.5 L548.8,293.4 L547.6,294.2 L546.5,295.0 L545.4,295.8 L544.3,296.6 L543.1,297.4 L542.0,298.2 L540.9,299.1 L539.9,299.9 L538.9,300.7 L538.0,301.4 L537.1,302.0 L536.3,302.6 L535.5,303.1 L534.7,303.5 L534.0,303.9 L533.3,304.2 L532.5,304.4 L531.7,304.6 L530.9,304.8 L529.9,304.9 L529.0,305.0 L527.9,305.0 L526.8,305.0 L525.7,305.0 L524.5,304.9 L523.3,304.8 L522.1,304.7 L521.0,304.6 L519.9,304.4 L518.8,304.1 L517.7,303.7 L516.4,303.3 L515.0,302.7 L513.5,302.1 L511.8,301.5 L510.1,301.0 L508.2,300.6 L506.1,300.3 L504.0,300.3 L501.8,300.6 L499.7,301.3 L497.7,302.2 L495.9,303.2 L494.1,304.3 L492.5,305.5 L490.9,306.8 L489.3,308.0 L487.9,309.3 L486.5,310.5 L485.1,311.6 L483.9,312.7 L482.6,313.7 L481.3,314.6 L480.1,315.6 L478.8,316.6 L477.6,317.6 L476.4,318.6 L475.3,319.5 L474.2,320.5 L473.1,321.3 L472.1,322.2 L471.0,323.0 L470.0,323.7 L468.9,324.4 L467.9,325.1 L466.8,325.8 L465.7,326.4 L464.6,327.1 L463.5,327.7 L462.4,328.3 L461.3,328.8 L460.2,329.4 L459.1,329.9 L458.0,330.5 L456.9,331.0 L455.8,331.5 L454.6,332.0 L453.6,332.4 L452.5,332.9 L451.5,333.3 L450.5,333.7 L449.4,334.0 L448.4,334.4 L447.3,334.8 L446.2,335.1 L445.1,335.5 L443.9,335.8 L442.7,336.2 L441.4,336.5 L440.1,336.8 L438.6,337.1 L437.1,337.4 L435.5,337.7 L433.9,338.1 L432.2,338.4 L430.5,338.7 L428.7,339.0 L427.0,339.4 L425.3,339.8 L423.7,340.2 L422.1,340.7 L420.5,341.1 L419.0,341.6 L417.5,342.1 L416.1,342.6 L414.7,343.1 L413.3,343.6 L412.0,344.0 L410.6,344.5 L409.3,345.0 L408.0,345.5 L406.6,345.9 L405.2,346.4 L403.7,347.0 L402.2,347.5 L400.7,348.1 L399.2,348.6 L397.7,349.2 L396.3,349.7 L394.9,350.2 L393.5,350.7 L392.2,351.2 L391.0,351.6 L389.9,352.0 L388.8,352.4 L387.7,352.8 L386.7,353.2 L385.6,353.7 L384.6,354.0 L383.6,354.4 L382.7,354.8 L381.8,355.1 L381.0,355.5 L380.2,355.7 L379.6,356.0 L379.0,356.2 Z" fill="#c2bcbd"/><path d="M382.2,366.4 L382.8,366.3 L383.4,366.1 L384.2,365.9 L385.0,365.7 L386.0,365.4 L387.0,365.2 L388.1,364.9 L389.3,364.5 L390.4,364.1 L391.7,363.7 L392.9,363.3 L394.1,362.8 L395.4,362.3 L396.7,361.7 L398.0,361.1 L399.4,360.4 L400.8,359.8 L402.2,359.1 L403.6,358.4 L405.0,357.6 L406.4,356.9 L407.8,356.2 L409.1,355.6 L410.5,354.9 L411.8,354.3 L413.1,353.7 L414.4,353.0 L415.7,352.4 L416.9,351.7 L418.2,351.1 L419.4,350.5 L420.7,349.9 L421.9,349.4 L423.2,348.9 L424.5,348.4 L425.8,348.0 L427.2,347.6 L428.7,347.3 L430.2,347.0 L431.8,346.7 L433.4,346.5 L435.1,346.3 L436.8,346.1 L438.4,345.9 L440.1,345.7 L441.7,345.4 L443.3,345.1 L444.8,344.8 L446.2,344.4 L447.6,344.1 L448.9,343.7 L450.1,343.3 L451.3,342.9 L452.5,342.5 L453.6,342.0 L454.8,341.6 L455.9,341.1 L457.1,340.6 L458.2,340.1 L459.4,339.6 L460.6,339.1 L461.8,338.5 L463.0,338.0 L464.2,337.4 L465.4,336.8 L466.6,336.1 L467.8,335.5 L469.0,334.8 L470.2,334.1 L471.4,333.4 L472.7,332.6 L473.9,331.8 L475.1,331.0 L476.3,330.1 L477.5,329.2 L478.7,328.3 L479.8,327.4 L481.0,326.4 L482.1,325.5 L483.3,324.5 L484.4,323.6 L485.6,322.6 L486.8,321.7 L488.1,320.7 L489.4,319.6 L490.8,318.5 L492.2,317.3 L493.7,316.1 L495.1,314.9 L496.4,313.7 L497.8,312.6 L499.1,311.7 L500.4,310.8 L501.6,310.1 L502.8,309.6 L503.8,309.3 L504.7,309.2 L505.7,309.2 L506.7,309.3 L507.9,309.6 L509.2,310.0 L510.5,310.4 L511.9,311.0 L513.3,311.5 L514.8,312.1 L516.3,312.6 L517.9,313.1 L519.4,313.4 L520.9,313.6 L522.3,313.7 L523.6,313.9 L524.9,314.1 L526.3,314.2 L527.6,314.3 L529.0,314.4 L530.4,314.4 L531.8,314.3 L533.2,314.2 L534.6,313.9 L536.1,313.6 L537.5,313.2 L538.8,312.6 L540.2,312.0 L541.4,311.3 L542.6,310.6 L543.8,309.9 L544.9,309.1 L546.0,308.3 L547.1,307.6 L548.2,306.8 L549.2,306.1 L550.3,305.4 L551.5,304.6 L552.6,303.8 L553.8,303.0 L555.0,302.2 L556.2,301.3 L557.4,300.5 L558.6,299.6 L559.8,298.7 L561.0,297.9 L562.2,297.0 L563.3,296.1 L564.5,295.3 L565.6,294.4 L566.7,293.6 L567.7,292.7 L568.8,291.8 L569.8,291.0 L570.8,290.2 L571.8,289.3 L572.8,288.5 L573.8,287.6 L574.9,286.8 L576.0,285.9 L577.2,285.1 L578.4,284.1 L579.8,283.1 L581.3,282.1 L582.9,281.0 L584.5,279.8 L586.1,278.7 L587.7,277.7 L589.2,276.6 L590.6,275.7 L591.8,274.9 L592.8,274.2 L593.6,273.6 L590.4,268.4 L589.5,268.9 L588.4,269.6 L587.1,270.3 L585.7,271.1 L584.1,272.0 L582.5,273.0 L580.8,274.0 L579.1,275.0 L577.4,276.1 L575.8,277.1 L574.2,278.0 L572.8,278.9 L571.6,279.8 L570.3,280.6 L569.2,281.5 L568.0,282.3 L566.9,283.1 L565.8,284.0 L564.8,284.8 L563.8,285.6 L562.7,286.3 L561.7,287.1 L560.6,287.9 L559.5,288.7 L558.4,289.5 L557.3,290.4 L556.1,291.2 L554.9,292.1 L553.8,292.9 L552.6,293.8 L551.4,294.6 L550.2,295.4 L549.1,296.3 L548.0,297.1 L546.8,297.8 L545.7,298.6 L544.5,299.4 L543.4,300.2 L542.4,301.1 L541.3,301.9 L540.3,302.6 L539.3,303.4 L538.4,304.0 L537.5,304.7 L536.6,305.2 L535.7,305.7 L534.8,306.1 L533.9,306.4 L533.0,306.7 L532.1,306.9 L531.1,307.0 L530.0,307.1 L529.0,307.2 L527.9,307.2 L526.7,307.2 L525.5,307.1 L524.3,307.0 L523.0,306.9 L521.8,306.8 L520.6,306.6 L519.4,306.4 L518.2,306.1 L517.0,305.7 L515.7,305.2 L514.3,304.6 L512.8,304.1 L511.2,303.5 L509.6,303.0 L507.8,302.6 L506.0,302.4 L504.1,302.4 L502.2,302.7 L500.4,303.2 L498.6,304.0 L496.9,305.0 L495.3,306.0 L493.7,307.2 L492.2,308.4 L490.7,309.6 L489.2,310.9 L487.8,312.1 L486.5,313.2 L485.2,314.3 L483.9,315.3 L482.6,316.3 L481.4,317.3 L480.1,318.3 L478.9,319.2 L477.8,320.2 L476.6,321.2 L475.5,322.1 L474.4,323.0 L473.3,323.8 L472.3,324.6 L471.2,325.4 L470.1,326.2 L469.0,326.9 L467.9,327.6 L466.8,328.2 L465.7,328.9 L464.5,329.5 L463.4,330.1 L462.3,330.7 L461.2,331.3 L460.0,331.8 L458.9,332.3 L457.7,332.9 L456.6,333.4 L455.5,333.9 L454.4,334.4 L453.3,334.8 L452.3,335.2 L451.2,335.6 L450.1,336.0 L449.1,336.4 L448.0,336.8 L446.8,337.1 L445.7,337.5 L444.5,337.8 L443.2,338.2 L441.9,338.5 L440.5,338.8 L439.0,339.1 L437.4,339.4 L435.8,339.7 L434.1,340.0 L432.5,340.3 L430.8,340.6 L429.1,340.9 L427.4,341.3 L425.8,341.6 L424.2,342.0 L422.6,342.5 L421.1,343.0 L419.7,343.4 L418.3,343.9 L416.9,344.4 L415.5,344.9 L414.2,345.5 L412.8,346.0 L411.5,346.5 L410.2,347.0 L408.9,347.5 L407.5,348.1 L406.1,348.6 L404.7,349.1 L403.2,349.7 L401.7,350.3 L400.2,350.9 L398.8,351.5 L397.3,352.0 L395.9,352.6 L394.6,353.1 L393.3,353.7 L392.0,354.1 L390.9,354.6 L389.8,355.0 L388.7,355.4 L387.6,355.8 L386.5,356.2 L385.4,356.6 L384.4,356.9 L383.5,357.3 L382.6,357.6 L381.7,357.9 L381.0,358.2 L380.3,358.4 L379.8,358.6 Z" fill="#d5d0d1"/><path d="M381.1,362.9 L381.7,362.7 L382.3,362.5 L383.1,362.3 L383.9,362.0 L384.8,361.8 L385.8,361.4 L386.9,361.1 L388.0,360.8 L389.1,360.4 L390.3,360.0 L391.5,359.6 L392.7,359.1 L393.9,358.6 L395.1,358.1 L396.5,357.5 L397.8,356.9 L399.2,356.3 L400.6,355.6 L402.1,355.0 L403.5,354.3 L404.9,353.7 L406.4,353.0 L407.8,352.4 L409.1,351.8 L410.5,351.3 L411.8,350.7 L413.1,350.1 L414.4,349.5 L415.7,348.9 L417.0,348.3 L418.3,347.8 L419.6,347.2 L420.9,346.7 L422.3,346.2 L423.7,345.7 L425.1,345.3 L426.6,344.9 L428.1,344.6 L429.7,344.2 L431.3,344.0 L433.0,343.7 L434.7,343.5 L436.3,343.2 L438.0,343.0 L439.6,342.7 L441.1,342.5 L442.7,342.2 L444.1,341.8 L445.4,341.5 L446.7,341.1 L447.9,340.7 L449.1,340.4 L450.3,340.0 L451.4,339.6 L452.5,339.1 L453.6,338.7 L454.7,338.3 L455.9,337.8 L457.0,337.3 L458.1,336.8 L459.3,336.3 L460.5,335.7 L461.6,335.2 L462.8,334.6 L464.0,334.0 L465.2,333.4 L466.3,332.8 L467.5,332.1 L468.7,331.5 L469.8,330.8 L471.0,330.0 L472.2,329.3 L473.3,328.5 L474.5,327.6 L475.6,326.8 L476.8,325.9 L477.9,325.0 L479.0,324.0 L480.2,323.1 L481.3,322.1 L482.5,321.2 L483.7,320.2 L484.9,319.2 L486.2,318.3 L487.5,317.2 L488.9,316.1 L490.3,314.9 L491.7,313.7 L493.1,312.5 L494.5,311.3 L496.0,310.2 L497.4,309.1 L498.8,308.2 L500.3,307.4 L501.7,306.8 L503.1,306.3 L504.5,306.1 L505.8,306.1 L507.2,306.3 L508.7,306.6 L510.1,307.0 L511.5,307.6 L512.9,308.1 L514.4,308.7 L515.8,309.2 L517.2,309.7 L518.6,310.1 L519.9,310.3 L521.3,310.5 L522.6,310.7 L523.9,310.8 L525.2,310.9 L526.5,311.0 L527.7,311.1 L529.0,311.1 L530.2,311.1 L531.5,311.0 L532.7,310.9 L533.9,310.6 L535.1,310.3 L536.3,310.0 L537.4,309.5 L538.5,308.9 L539.6,308.3 L540.7,307.7 L541.8,306.9 L542.8,306.2 L543.9,305.4 L545.0,304.6 L546.0,303.9 L547.1,303.1 L548.2,302.3 L549.4,301.6 L550.5,300.8 L551.7,300.0 L552.9,299.1 L554.0,298.3 L555.2,297.4 L556.4,296.6 L557.6,295.7 L558.8,294.9 L559.9,294.0 L561.1,293.2 L562.2,292.3 L563.3,291.5 L564.4,290.7 L565.5,289.8 L566.5,289.0 L567.5,288.2 L568.6,287.4 L569.6,286.5 L570.6,285.7 L571.7,284.9 L572.8,284.0 L574.0,283.2 L575.2,282.3 L576.5,281.4 L578.0,280.4 L579.6,279.4 L581.2,278.3 L582.8,277.2 L584.5,276.2 L586.1,275.1 L587.6,274.2 L589.0,273.3 L590.3,272.5 L591.3,271.8 L592.2,271.3 L590.6,268.7 L589.7,269.3 L588.6,269.9 L587.4,270.6 L585.9,271.5 L584.4,272.4 L582.7,273.4 L581.0,274.4 L579.3,275.4 L577.7,276.4 L576.0,277.5 L574.5,278.4 L573.1,279.3 L571.8,280.2 L570.6,281.0 L569.5,281.9 L568.3,282.7 L567.2,283.5 L566.2,284.4 L565.1,285.2 L564.1,286.0 L563.1,286.8 L562.0,287.5 L561.0,288.3 L559.9,289.1 L558.7,290.0 L557.6,290.8 L556.4,291.6 L555.3,292.5 L554.1,293.4 L552.9,294.2 L551.7,295.0 L550.6,295.9 L549.4,296.7 L548.3,297.5 L547.1,298.3 L546.0,299.1 L544.8,299.9 L543.7,300.7 L542.7,301.5 L541.6,302.3 L540.6,303.1 L539.6,303.8 L538.7,304.5 L537.7,305.1 L536.8,305.6 L535.9,306.1 L535.0,306.5 L534.1,306.9 L533.1,307.1 L532.1,307.3 L531.1,307.5 L530.1,307.6 L529.0,307.6 L527.8,307.7 L526.7,307.6 L525.5,307.6 L524.2,307.5 L523.0,307.3 L521.7,307.2 L520.5,307.1 L519.3,306.9 L518.1,306.5 L516.9,306.1 L515.5,305.6 L514.1,305.1 L512.6,304.5 L511.1,303.9 L509.5,303.4 L507.8,303.0 L506.0,302.8 L504.2,302.8 L502.3,303.1 L500.5,303.7 L498.8,304.4 L497.2,305.3 L495.5,306.4 L494.0,307.5 L492.5,308.7 L491.0,310.0 L489.5,311.2 L488.1,312.4 L486.8,313.6 L485.5,314.7 L484.2,315.7 L482.9,316.6 L481.6,317.6 L480.4,318.6 L479.2,319.6 L478.1,320.5 L476.9,321.5 L475.8,322.4 L474.7,323.3 L473.6,324.2 L472.5,325.0 L471.4,325.8 L470.3,326.5 L469.2,327.3 L468.1,327.9 L467.0,328.6 L465.9,329.3 L464.7,329.9 L463.6,330.5 L462.5,331.1 L461.3,331.7 L460.2,332.2 L459.1,332.7 L457.9,333.3 L456.8,333.8 L455.7,334.3 L454.6,334.8 L453.5,335.2 L452.4,335.6 L451.4,336.0 L450.3,336.4 L449.2,336.8 L448.1,337.2 L447.0,337.6 L445.8,337.9 L444.6,338.3 L443.3,338.6 L442.0,338.9 L440.5,339.3 L439.0,339.6 L437.5,339.8 L435.9,340.1 L434.2,340.4 L432.5,340.7 L430.8,341.0 L429.2,341.3 L427.5,341.6 L425.9,342.0 L424.3,342.4 L422.8,342.9 L421.3,343.3 L419.8,343.8 L418.4,344.3 L417.0,344.8 L415.7,345.3 L414.3,345.9 L413.0,346.4 L411.7,346.9 L410.4,347.5 L409.1,348.0 L407.7,348.5 L406.3,349.0 L404.9,349.6 L403.4,350.2 L401.9,350.8 L400.5,351.4 L399.0,352.0 L397.6,352.5 L396.1,353.1 L394.8,353.7 L393.5,354.2 L392.2,354.7 L391.1,355.1 L390.0,355.5 L388.9,355.9 L387.8,356.3 L386.7,356.7 L385.6,357.1 L384.6,357.5 L383.6,357.8 L382.7,358.1 L381.9,358.4 L381.1,358.7 L380.5,358.9 L379.9,359.1 Z" fill="#e6e2e3" opacity="0.7"/>
<ellipse cx="381.2" cy="362.5" rx="2" ry="6.4" transform="rotate(18 381.2 362.5)" fill="#e6e4e4"/>
<path d="M389.1,339.6 L397.0,343.0" stroke="#a5a5a5" stroke-width="2.2" stroke-linecap="round"/>
<path d="M395.6,350.4 L395.9,350.4 L396.4,350.4 L396.8,350.5 L397.4,350.5 L398.0,350.5 L398.6,350.5 L399.3,350.5 L400.1,350.6 L400.9,350.6 L401.7,350.6 L402.6,350.6 L403.5,350.6 L404.4,350.7 L405.4,350.7 L406.5,350.8 L407.7,351.0 L409.1,351.1 L410.6,351.2 L412.1,351.4 L413.8,351.4 L415.5,351.4 L417.3,351.4 L419.1,351.2 L420.9,350.9 L422.7,350.6 L424.5,350.2 L426.3,349.7 L428.2,349.2 L430.0,348.7 L431.9,348.0 L433.8,347.4 L435.7,346.6 L437.6,345.9 L439.4,345.0 L441.3,344.1 L443.1,343.1 L445.0,342.0 L446.8,340.7 L448.6,339.3 L450.3,337.9 L452.0,336.4 L453.6,335.0 L455.2,333.6 L456.6,332.3 L458.0,331.1 L459.3,330.0 L460.4,329.1 L461.4,328.4 L462.3,327.8 L463.1,327.4 L463.9,327.0 L464.6,326.6 L465.3,326.3 L465.9,326.1 L466.6,325.9 L467.3,325.7 L468.0,325.6 L468.7,325.5 L469.5,325.4 L470.2,325.3 L470.8,325.2 L471.5,325.2 L472.1,325.2 L472.8,325.3 L473.5,325.4 L474.2,325.5 L474.9,325.7 L475.6,325.8 L476.3,326.0 L477.0,326.2 L477.5,326.3 L478.0,326.4 L480.0,317.6 L479.6,317.5 L479.1,317.4 L478.6,317.3 L477.9,317.1 L477.1,316.8 L476.2,316.6 L475.3,316.4 L474.2,316.2 L473.2,316.0 L472.0,315.8 L470.9,315.8 L469.8,315.7 L468.8,315.8 L467.9,315.8 L467.0,315.8 L466.0,315.8 L464.9,315.9 L463.8,316.0 L462.5,316.2 L461.3,316.5 L460.0,316.9 L458.6,317.4 L457.1,318.0 L455.6,318.8 L454.0,319.7 L452.4,320.8 L450.8,322.0 L449.2,323.3 L447.6,324.5 L445.9,325.9 L444.3,327.2 L442.7,328.4 L441.2,329.6 L439.7,330.7 L438.3,331.7 L436.9,332.5 L435.5,333.3 L434.0,334.1 L432.4,334.9 L430.9,335.6 L429.3,336.4 L427.8,337.0 L426.2,337.7 L424.7,338.3 L423.2,338.8 L421.7,339.2 L420.3,339.6 L419.1,339.9 L417.9,340.0 L416.7,340.1 L415.5,340.1 L414.4,340.0 L413.1,339.9 L411.9,339.7 L410.7,339.4 L409.4,339.2 L408.2,338.9 L406.9,338.7 L405.7,338.5 L404.5,338.4 L403.4,338.3 L402.5,338.2 L401.6,338.1 L400.8,338.0 L400.1,337.9 L399.4,337.9 L398.8,337.8 L398.2,337.8 L397.7,337.7 L397.2,337.7 L396.8,337.6 L396.4,337.6 Z" fill="#2e5aa2"/><path d="M395.8,347.9 L396.1,347.9 L396.5,347.9 L397.0,347.9 L397.5,347.9 L398.1,348.0 L398.8,348.0 L399.5,348.0 L400.2,348.0 L401.0,348.1 L401.9,348.1 L402.8,348.2 L403.7,348.2 L404.7,348.2 L405.7,348.3 L406.8,348.5 L408.1,348.6 L409.4,348.8 L410.9,348.9 L412.3,349.1 L413.9,349.1 L415.5,349.2 L417.2,349.1 L418.9,349.0 L420.6,348.7 L422.3,348.4 L424.0,348.0 L425.7,347.5 L427.5,347.0 L429.3,346.5 L431.1,345.8 L432.9,345.2 L434.7,344.4 L436.6,343.7 L438.3,342.8 L440.1,341.9 L441.9,341.0 L443.6,339.9 L445.4,338.7 L447.1,337.4 L448.8,336.0 L450.5,334.6 L452.1,333.2 L453.7,331.8 L455.1,330.5 L456.6,329.2 L457.9,328.2 L459.1,327.2 L460.2,326.5 L461.3,325.9 L462.2,325.4 L463.1,325.0 L463.9,324.6 L464.7,324.3 L465.5,324.1 L466.2,323.9 L467.0,323.8 L467.8,323.6 L468.6,323.5 L469.3,323.4 L470.1,323.4 L470.8,323.3 L471.6,323.3 L472.3,323.4 L473.1,323.4 L473.9,323.6 L474.6,323.7 L475.4,323.9 L476.1,324.1 L476.8,324.2 L477.4,324.4 L477.9,324.5 L478.4,324.6 L479.6,319.4 L479.2,319.3 L478.7,319.2 L478.1,319.0 L477.4,318.8 L476.7,318.6 L475.8,318.4 L474.9,318.2 L474.0,318.0 L473.0,317.8 L471.9,317.7 L470.9,317.6 L469.9,317.6 L469.0,317.7 L468.1,317.7 L467.2,317.7 L466.2,317.8 L465.2,317.9 L464.2,318.0 L463.1,318.3 L461.9,318.5 L460.7,318.9 L459.5,319.4 L458.2,320.0 L456.8,320.7 L455.3,321.6 L453.8,322.6 L452.2,323.8 L450.7,325.1 L449.1,326.4 L447.5,327.7 L445.9,329.0 L444.3,330.3 L442.7,331.5 L441.1,332.7 L439.6,333.7 L438.1,334.6 L436.6,335.4 L435.1,336.3 L433.5,337.1 L431.9,337.8 L430.2,338.6 L428.6,339.2 L427.0,339.9 L425.4,340.5 L423.8,341.0 L422.3,341.4 L420.8,341.8 L419.4,342.1 L418.1,342.3 L416.8,342.4 L415.5,342.4 L414.2,342.3 L412.9,342.2 L411.6,342.0 L410.4,341.8 L409.1,341.5 L407.9,341.3 L406.6,341.1 L405.4,340.9 L404.3,340.8 L403.3,340.7 L402.3,340.7 L401.5,340.6 L400.7,340.5 L399.9,340.5 L399.2,340.4 L398.6,340.3 L398.0,340.3 L397.5,340.3 L397.0,340.2 L396.6,340.2 L396.2,340.1 Z" fill="#396bb3"/><path d="M396.0,344.4 L396.3,344.4 L396.8,344.4 L397.2,344.5 L397.8,344.5 L398.3,344.5 L399.0,344.6 L399.7,344.6 L400.4,344.7 L401.2,344.7 L402.1,344.8 L403.0,344.8 L404.0,344.9 L405.0,345.0 L406.1,345.1 L407.3,345.3 L408.5,345.4 L409.8,345.6 L411.2,345.8 L412.6,346.0 L414.1,346.1 L415.5,346.1 L417.0,346.1 L418.5,346.0 L420.1,345.7 L421.6,345.4 L423.2,345.0 L424.8,344.6 L426.5,344.1 L428.2,343.5 L430.0,342.9 L431.7,342.2 L433.4,341.5 L435.2,340.7 L436.9,339.9 L438.5,339.0 L440.2,338.1 L441.8,337.1 L443.5,336.0 L445.1,334.7 L446.8,333.4 L448.4,332.1 L450.0,330.7 L451.6,329.3 L453.1,328.0 L454.6,326.8 L456.0,325.7 L457.4,324.7 L458.7,323.9 L459.9,323.2 L461.0,322.7 L462.0,322.2 L463.0,321.9 L464.0,321.6 L464.9,321.4 L465.8,321.2 L466.6,321.1 L467.5,321.0 L468.3,320.9 L469.2,320.9 L470.0,320.8 L470.9,320.8 L471.7,320.8 L472.6,320.9 L473.5,321.0 L474.3,321.1 L475.2,321.3 L475.9,321.5 L476.7,321.7 L477.4,321.9 L478.0,322.0 L478.5,322.2 L478.9,322.3 L479.5,319.6 L479.1,319.6 L478.6,319.4 L478.1,319.3 L477.4,319.1 L476.6,318.9 L475.8,318.6 L474.9,318.4 L473.9,318.3 L472.9,318.1 L471.9,318.0 L470.9,317.9 L469.9,317.9 L469.0,318.0 L468.1,318.0 L467.2,318.0 L466.3,318.1 L465.3,318.2 L464.3,318.3 L463.2,318.6 L462.0,318.8 L460.9,319.2 L459.6,319.7 L458.3,320.3 L456.9,321.0 L455.5,321.9 L454.0,322.9 L452.5,324.1 L450.9,325.3 L449.3,326.6 L447.7,328.0 L446.1,329.3 L444.5,330.6 L442.9,331.8 L441.3,333.0 L439.8,334.0 L438.3,334.9 L436.8,335.8 L435.2,336.6 L433.6,337.4 L432.0,338.2 L430.4,338.9 L428.7,339.6 L427.1,340.2 L425.5,340.8 L423.9,341.3 L422.4,341.8 L420.9,342.1 L419.5,342.4 L418.2,342.6 L416.8,342.7 L415.5,342.7 L414.2,342.6 L412.9,342.5 L411.6,342.3 L410.3,342.1 L409.0,341.9 L407.8,341.7 L406.6,341.5 L405.4,341.3 L404.3,341.2 L403.3,341.1 L402.3,341.0 L401.5,341.0 L400.7,340.9 L399.9,340.8 L399.2,340.8 L398.6,340.7 L398.0,340.7 L397.5,340.6 L397.0,340.6 L396.6,340.6 L396.2,340.5 Z" fill="#4a7ec2" opacity="0.7"/>
<ellipse cx="396.8" cy="344" rx="1.8" ry="5" fill="#9fb8e0"/>
<path d="M488.0,327.7 L488.4,327.7 L488.9,327.6 L489.5,327.6 L490.1,327.5 L490.7,327.5 L491.5,327.4 L492.2,327.4 L493.0,327.3 L493.8,327.2 L494.7,327.1 L495.5,327.0 L496.4,326.9 L497.2,326.7 L498.2,326.5 L499.3,326.3 L500.4,326.1 L501.6,325.9 L502.8,325.6 L504.0,325.4 L505.3,325.1 L506.5,324.8 L507.7,324.4 L508.8,324.1 L509.9,323.8 L510.9,323.4 L511.7,323.1 L512.5,322.8 L513.3,322.5 L514.1,322.1 L514.9,321.7 L515.6,321.3 L516.4,320.8 L517.2,320.3 L518.0,319.8 L518.9,319.2 L519.8,318.5 L520.9,317.7 L521.9,316.8 L522.9,315.9 L523.9,315.0 L524.8,314.1 L525.8,313.2 L526.7,312.4 L527.6,311.6 L528.5,310.8 L529.4,310.1 L530.2,309.3 L531.2,308.6 L532.2,307.9 L533.3,307.0 L534.6,306.1 L535.9,305.1 L537.4,304.1 L538.8,303.1 L540.3,302.1 L541.8,301.1 L543.2,300.2 L544.6,299.2 L546.0,298.3 L547.2,297.5 L548.4,296.8 L549.5,296.0 L550.6,295.3 L551.7,294.7 L552.8,294.0 L553.8,293.4 L554.8,292.8 L555.7,292.2 L556.7,291.7 L557.5,291.1 L558.3,290.6 L559.1,290.1 L559.7,289.6 L560.3,289.2 L560.8,288.7 L561.2,288.3 L561.6,287.9 L561.9,287.6 L562.2,287.3 L562.4,287.0 L562.6,286.7 L562.8,286.4 L563.0,286.2 L563.2,286.0 L562.8,285.0 L562.5,285.0 L562.3,284.9 L561.9,284.9 L561.6,284.8 L561.2,284.8 L560.7,284.7 L560.3,284.7 L559.7,284.7 L559.1,284.7 L558.4,284.7 L557.7,284.8 L556.9,284.9 L556.1,285.0 L555.2,285.2 L554.2,285.4 L553.1,285.6 L552.0,285.8 L550.8,286.1 L549.6,286.4 L548.3,286.7 L547.0,287.1 L545.6,287.5 L544.2,288.0 L542.8,288.5 L541.3,289.0 L539.8,289.6 L538.1,290.1 L536.4,290.8 L534.7,291.5 L532.9,292.2 L531.2,292.9 L529.4,293.7 L527.7,294.5 L526.0,295.4 L524.4,296.4 L522.8,297.4 L521.4,298.5 L520.1,299.6 L518.9,300.9 L517.8,302.1 L516.8,303.3 L516.0,304.5 L515.2,305.6 L514.5,306.6 L513.8,307.5 L513.3,308.3 L512.7,309.0 L512.2,309.5 L511.6,310.0 L511.1,310.5 L510.6,310.9 L510.2,311.2 L509.8,311.5 L509.4,311.7 L509.0,311.9 L508.6,312.1 L508.1,312.4 L507.5,312.6 L506.8,312.9 L506.1,313.2 L505.3,313.6 L504.4,313.9 L503.5,314.2 L502.4,314.5 L501.3,314.8 L500.2,315.1 L499.0,315.4 L497.9,315.8 L496.8,316.1 L495.7,316.4 L494.6,316.8 L493.6,317.1 L492.8,317.5 L491.9,317.9 L491.1,318.3 L490.3,318.7 L489.6,319.1 L488.9,319.5 L488.3,319.9 L487.7,320.2 L487.2,320.6 L486.7,320.9 L486.3,321.1 L486.0,321.3 Z" fill="#2e5aa2"/><path d="M487.6,326.4 L488.0,326.3 L488.5,326.3 L489.0,326.2 L489.6,326.1 L490.2,326.0 L490.9,325.8 L491.7,325.7 L492.5,325.6 L493.3,325.4 L494.1,325.3 L495.0,325.1 L495.8,324.9 L496.7,324.7 L497.7,324.5 L498.8,324.3 L499.9,324.0 L501.1,323.8 L502.3,323.5 L503.5,323.2 L504.7,323.0 L505.9,322.6 L507.0,322.3 L508.1,322.0 L509.1,321.7 L510.0,321.3 L510.9,321.0 L511.6,320.7 L512.3,320.4 L513.1,320.1 L513.8,319.7 L514.5,319.3 L515.2,318.9 L515.9,318.4 L516.6,317.9 L517.4,317.3 L518.3,316.7 L519.2,315.9 L520.2,315.1 L521.1,314.2 L522.0,313.3 L522.9,312.4 L523.8,311.5 L524.7,310.6 L525.7,309.7 L526.6,308.8 L527.5,308.0 L528.5,307.2 L529.5,306.4 L530.6,305.6 L531.8,304.7 L533.2,303.8 L534.6,302.9 L536.1,301.9 L537.6,300.9 L539.2,300.0 L540.7,299.1 L542.2,298.2 L543.7,297.3 L545.0,296.5 L546.3,295.7 L547.5,295.0 L548.7,294.3 L549.9,293.7 L551.0,293.1 L552.1,292.5 L553.2,291.9 L554.2,291.4 L555.2,290.9 L556.2,290.4 L557.1,289.9 L557.9,289.5 L558.6,289.1 L559.3,288.7 L559.9,288.3 L560.4,287.9 L560.9,287.6 L561.3,287.3 L561.7,287.0 L562.0,286.8 L562.2,286.5 L562.5,286.3 L562.7,286.1 L562.9,286.0 L563.1,285.8 L562.9,285.2 L562.6,285.2 L562.4,285.2 L562.1,285.2 L561.8,285.3 L561.4,285.3 L561.0,285.3 L560.5,285.3 L560.0,285.4 L559.4,285.5 L558.8,285.6 L558.1,285.8 L557.4,285.9 L556.5,286.2 L555.7,286.4 L554.7,286.6 L553.7,286.9 L552.6,287.2 L551.4,287.6 L550.2,287.9 L549.0,288.3 L547.7,288.8 L546.4,289.2 L545.0,289.7 L543.7,290.3 L542.3,290.9 L540.7,291.5 L539.2,292.2 L537.5,292.9 L535.8,293.6 L534.1,294.4 L532.4,295.2 L530.7,296.0 L529.1,296.9 L527.5,297.7 L525.9,298.7 L524.5,299.6 L523.2,300.6 L521.9,301.7 L520.8,302.9 L519.8,304.0 L518.8,305.1 L517.9,306.2 L517.1,307.3 L516.4,308.3 L515.7,309.2 L515.0,310.0 L514.4,310.7 L513.7,311.3 L513.1,311.9 L512.5,312.4 L511.9,312.8 L511.4,313.1 L510.9,313.4 L510.5,313.7 L510.0,314.0 L509.5,314.2 L508.9,314.5 L508.3,314.7 L507.6,315.0 L506.9,315.3 L506.0,315.7 L505.1,316.0 L504.1,316.3 L503.0,316.6 L501.9,316.9 L500.7,317.2 L499.6,317.5 L498.4,317.8 L497.3,318.2 L496.2,318.5 L495.1,318.8 L494.2,319.1 L493.3,319.4 L492.5,319.7 L491.6,320.1 L490.9,320.4 L490.1,320.8 L489.4,321.1 L488.8,321.4 L488.2,321.7 L487.6,322.0 L487.2,322.2 L486.7,322.4 L486.4,322.6 Z" fill="#396bb3"/><path d="M487.1,324.7 L487.4,324.6 L487.9,324.4 L488.4,324.3 L489.0,324.1 L489.6,323.9 L490.3,323.7 L491.0,323.5 L491.7,323.3 L492.5,323.0 L493.4,322.8 L494.2,322.5 L495.1,322.3 L496.0,322.0 L497.0,321.8 L498.1,321.5 L499.2,321.3 L500.4,321.0 L501.6,320.7 L502.8,320.4 L503.9,320.1 L505.1,319.8 L506.2,319.5 L507.2,319.1 L508.1,318.8 L509.0,318.5 L509.7,318.2 L510.4,317.9 L511.1,317.6 L511.7,317.3 L512.3,317.0 L512.9,316.7 L513.5,316.3 L514.1,315.9 L514.8,315.4 L515.5,314.9 L516.2,314.3 L517.0,313.6 L517.8,312.8 L518.6,311.9 L519.5,311.0 L520.3,310.1 L521.2,309.1 L522.1,308.1 L523.0,307.1 L524.0,306.1 L525.0,305.2 L526.1,304.2 L527.2,303.3 L528.5,302.5 L529.9,301.6 L531.3,300.7 L532.9,299.8 L534.4,298.9 L536.1,298.0 L537.7,297.1 L539.3,296.3 L540.8,295.5 L542.4,294.7 L543.8,294.0 L545.1,293.3 L546.4,292.6 L547.7,292.0 L548.9,291.5 L550.1,290.9 L551.3,290.4 L552.4,290.0 L553.5,289.5 L554.5,289.1 L555.5,288.7 L556.4,288.3 L557.3,288.0 L558.1,287.7 L558.8,287.3 L559.4,287.1 L560.0,286.8 L560.5,286.6 L560.9,286.4 L561.3,286.2 L561.7,286.1 L562.0,286.0 L562.3,285.8 L562.6,285.7 L562.8,285.6 L563.0,285.5 L562.9,285.2 L562.7,285.2 L562.4,285.3 L562.1,285.3 L561.8,285.3 L561.4,285.3 L561.0,285.4 L560.6,285.4 L560.0,285.5 L559.5,285.6 L558.9,285.7 L558.2,285.9 L557.4,286.1 L556.6,286.3 L555.7,286.6 L554.8,286.8 L553.7,287.1 L552.7,287.4 L551.5,287.8 L550.3,288.2 L549.1,288.6 L547.8,289.0 L546.5,289.5 L545.2,290.0 L543.8,290.6 L542.4,291.1 L540.9,291.8 L539.3,292.5 L537.7,293.2 L536.0,293.9 L534.3,294.7 L532.6,295.5 L530.9,296.3 L529.3,297.2 L527.7,298.1 L526.2,299.0 L524.8,300.0 L523.4,301.0 L522.2,302.0 L521.1,303.2 L520.1,304.3 L519.1,305.4 L518.2,306.5 L517.4,307.5 L516.6,308.5 L515.9,309.4 L515.3,310.2 L514.6,311.0 L513.9,311.6 L513.3,312.1 L512.7,312.6 L512.1,313.1 L511.6,313.4 L511.1,313.7 L510.6,314.0 L510.2,314.3 L509.6,314.5 L509.1,314.8 L508.4,315.1 L507.7,315.3 L507.0,315.7 L506.1,316.0 L505.2,316.3 L504.2,316.6 L503.1,316.9 L502.0,317.2 L500.8,317.5 L499.6,317.8 L498.5,318.2 L497.3,318.5 L496.2,318.8 L495.2,319.1 L494.3,319.4 L493.4,319.7 L492.5,320.0 L491.7,320.3 L490.9,320.7 L490.2,321.0 L489.5,321.3 L488.8,321.6 L488.2,321.9 L487.7,322.2 L487.2,322.4 L486.8,322.6 L486.4,322.8 Z" fill="#4a7ec2" opacity="0.7"/>
<path d="M477.7,331.7 L478.8,330.8 L480.0,329.9 L481.2,329.0 L482.3,328.0 L483.5,327.1 L484.6,326.1 L485.8,325.2 L486.9,324.2 L488.1,323.3 L489.4,322.3 L490.8,321.3 L492.2,320.1 L493.6,318.9 L495.0,317.7 L496.4,316.5 L497.8,315.4 L499.1,314.3 L500.4,313.3 L501.8,312.4 L495.5,303.4 L494.0,304.4 L492.5,305.5 L490.9,306.8 L489.3,308.0 L487.9,309.3 L486.5,310.5 L485.1,311.6 L483.9,312.7 L482.6,313.7 L481.3,314.6 L480.1,315.6 L478.8,316.6 L477.6,317.6 L476.4,318.6 L475.3,319.5 L474.2,320.5 L473.1,321.3 L472.0,322.2 L470.9,323.0 Z" fill="#c2bcbd"/><path d="M476.4,330.1 L477.5,329.2 L478.7,328.3 L479.8,327.4 L481.0,326.4 L482.1,325.5 L483.3,324.5 L484.4,323.6 L485.6,322.6 L486.8,321.7 L488.1,320.7 L489.4,319.6 L490.8,318.5 L492.2,317.3 L493.7,316.1 L495.1,314.9 L496.4,313.7 L497.8,312.6 L499.2,311.6 L500.6,310.7 L496.7,305.1 L495.2,306.1 L493.7,307.2 L492.2,308.4 L490.7,309.6 L489.2,310.9 L487.8,312.1 L486.5,313.2 L485.2,314.3 L483.9,315.3 L482.6,316.3 L481.4,317.3 L480.1,318.3 L478.9,319.2 L477.8,320.2 L476.6,321.2 L475.5,322.1 L474.4,323.0 L473.3,323.8 L472.2,324.7 Z" fill="#d5d0d1"/><path d="M474.5,327.6 L475.6,326.8 L476.8,325.9 L477.9,325.0 L479.0,324.0 L480.2,323.1 L481.3,322.1 L482.5,321.2 L483.7,320.2 L484.9,319.2 L486.2,318.3 L487.5,317.2 L488.9,316.1 L490.3,314.9 L491.7,313.7 L493.1,312.5 L494.5,311.3 L496.0,310.2 L497.4,309.1 L498.9,308.2 L497.0,305.5 L495.5,306.4 L494.0,307.5 L492.5,308.7 L491.0,310.0 L489.5,311.2 L488.1,312.4 L486.8,313.6 L485.5,314.7 L484.2,315.7 L482.9,316.6 L481.6,317.6 L480.4,318.6 L479.2,319.6 L478.1,320.5 L476.9,321.5 L475.8,322.4 L474.7,323.3 L473.6,324.2 L472.5,325.0 Z" fill="#e6e2e3" opacity="0.7"/>
<path d="M550.6,308.2 L551.7,307.5 L552.9,306.7 L554.0,305.9 L555.3,305.1 L556.5,304.3 L557.7,303.4 L558.9,302.5 L560.1,301.7 L561.3,300.8 L562.5,299.9 L563.6,299.0 L564.8,298.2 L566.0,297.3 L567.1,296.4 L568.2,295.5 L569.3,294.6 L570.3,293.8 L571.3,292.9 L572.3,292.1 L573.3,291.2 L574.3,290.4 L575.3,289.5 L576.3,288.7 L577.4,287.8 L578.5,287.0 L579.7,286.0 L581.1,285.0 L582.5,283.9 L584.1,282.8 L585.7,281.6 L587.3,280.5 L588.8,279.4 L590.3,278.3 L591.6,277.4 L592.8,276.5 L593.8,275.8 L594.7,275.2 L589.3,266.8 L588.5,267.3 L587.4,267.9 L586.1,268.6 L584.6,269.4 L583.0,270.3 L581.4,271.3 L579.6,272.2 L577.9,273.2 L576.2,274.2 L574.5,275.2 L573.0,276.1 L571.5,277.0 L570.2,277.9 L568.9,278.8 L567.7,279.6 L566.5,280.4 L565.4,281.3 L564.3,282.1 L563.3,282.8 L562.2,283.6 L561.2,284.4 L560.2,285.2 L559.1,285.9 L558.0,286.7 L556.9,287.5 L555.8,288.3 L554.6,289.2 L553.4,290.0 L552.3,290.9 L551.1,291.7 L549.9,292.5 L548.8,293.4 L547.6,294.2 L546.5,295.0 L545.4,295.8 L544.3,296.5 L543.2,297.3 Z" fill="#c2bcbd"/><path d="M549.2,306.1 L550.3,305.4 L551.5,304.6 L552.6,303.8 L553.8,303.0 L555.0,302.2 L556.2,301.3 L557.4,300.5 L558.6,299.6 L559.8,298.7 L561.0,297.9 L562.2,297.0 L563.3,296.1 L564.5,295.3 L565.6,294.4 L566.7,293.6 L567.7,292.7 L568.8,291.8 L569.8,291.0 L570.8,290.2 L571.8,289.3 L572.8,288.5 L573.8,287.6 L574.9,286.8 L576.0,285.9 L577.2,285.1 L578.4,284.1 L579.8,283.1 L581.3,282.1 L582.9,281.0 L584.5,279.8 L586.1,278.7 L587.7,277.7 L589.2,276.6 L590.6,275.7 L591.8,274.9 L592.8,274.2 L593.6,273.6 L590.4,268.4 L589.5,268.9 L588.4,269.6 L587.1,270.3 L585.7,271.1 L584.1,272.0 L582.5,273.0 L580.8,274.0 L579.1,275.0 L577.4,276.1 L575.8,277.1 L574.2,278.0 L572.8,278.9 L571.6,279.8 L570.3,280.6 L569.2,281.5 L568.0,282.3 L566.9,283.1 L565.8,284.0 L564.8,284.8 L563.8,285.6 L562.7,286.3 L561.7,287.1 L560.6,287.9 L559.5,288.7 L558.4,289.5 L557.3,290.4 L556.1,291.2 L554.9,292.1 L553.8,292.9 L552.6,293.8 L551.4,294.6 L550.2,295.4 L549.1,296.3 L548.0,297.1 L546.8,297.8 L545.7,298.6 L544.6,299.4 Z" fill="#d5d0d1"/><path d="M547.1,303.1 L548.2,302.3 L549.4,301.6 L550.5,300.8 L551.7,300.0 L552.9,299.1 L554.0,298.3 L555.2,297.4 L556.4,296.6 L557.6,295.7 L558.8,294.9 L559.9,294.0 L561.1,293.2 L562.2,292.3 L563.3,291.5 L564.4,290.7 L565.5,289.8 L566.5,289.0 L567.5,288.2 L568.6,287.4 L569.6,286.5 L570.6,285.7 L571.7,284.9 L572.8,284.0 L574.0,283.2 L575.2,282.3 L576.5,281.4 L578.0,280.4 L579.6,279.4 L581.2,278.3 L582.8,277.2 L584.5,276.2 L586.1,275.1 L587.6,274.2 L589.0,273.3 L590.3,272.5 L591.3,271.8 L592.2,271.3 L590.6,268.7 L589.7,269.3 L588.6,269.9 L587.4,270.6 L585.9,271.5 L584.4,272.4 L582.7,273.4 L581.0,274.4 L579.3,275.4 L577.7,276.4 L576.0,277.5 L574.5,278.4 L573.1,279.3 L571.8,280.2 L570.6,281.0 L569.5,281.9 L568.3,282.7 L567.2,283.5 L566.2,284.4 L565.1,285.2 L564.1,286.0 L563.1,286.8 L562.0,287.5 L561.0,288.3 L559.9,289.1 L558.7,290.0 L557.6,290.8 L556.4,291.6 L555.3,292.5 L554.1,293.4 L552.9,294.2 L551.7,295.0 L550.6,295.9 L549.4,296.7 L548.3,297.5 L547.1,298.3 L546.0,299.1 L544.9,299.8 Z" fill="#e6e2e3" opacity="0.7"/>
<path d="M568.1,295.6 L568.6,295.4 L569.2,295.2 L569.9,295.0 L570.7,294.7 L571.5,294.4 L572.4,294.2 L573.4,293.8 L574.4,293.5 L575.4,293.2 L576.4,292.9 L577.4,292.5 L578.4,292.2 L579.4,291.8 L580.5,291.4 L581.6,291.0 L582.8,290.6 L584.0,290.2 L585.3,289.8 L586.5,289.3 L587.7,288.9 L588.9,288.5 L590.1,288.1 L591.2,287.7 L592.3,287.3 L593.4,287.0 L594.5,286.6 L595.6,286.2 L596.7,285.8 L597.9,285.4 L599.0,285.1 L600.0,284.7 L601.0,284.4 L602.0,284.1 L602.8,283.8 L603.5,283.6 L604.1,283.4 L599.9,270.6 L599.4,270.8 L598.6,271.0 L597.8,271.3 L596.9,271.6 L595.9,271.9 L594.8,272.2 L593.6,272.6 L592.4,273.0 L591.2,273.4 L590.0,273.8 L588.9,274.2 L587.7,274.7 L586.6,275.1 L585.4,275.6 L584.2,276.1 L583.0,276.6 L581.7,277.1 L580.5,277.7 L579.3,278.2 L578.1,278.7 L576.9,279.3 L575.7,279.8 L574.7,280.3 L573.6,280.8 L572.6,281.3 L571.6,281.9 L570.6,282.4 L569.6,283.0 L568.7,283.5 L567.8,284.0 L567.0,284.5 L566.2,285.0 L565.5,285.4 L564.9,285.8 L564.3,286.2 L563.9,286.4 Z" fill="#2e5aa2"/><path d="M567.3,293.7 L567.8,293.6 L568.3,293.3 L569.0,293.1 L569.8,292.8 L570.6,292.5 L571.5,292.1 L572.5,291.8 L573.4,291.4 L574.4,291.0 L575.4,290.7 L576.4,290.3 L577.4,289.9 L578.5,289.5 L579.6,289.1 L580.7,288.7 L581.9,288.3 L583.1,287.8 L584.3,287.4 L585.5,286.9 L586.8,286.5 L588.0,286.0 L589.1,285.6 L590.3,285.2 L591.4,284.8 L592.5,284.4 L593.6,284.0 L594.7,283.6 L595.9,283.3 L597.0,282.9 L598.1,282.5 L599.2,282.2 L600.2,281.8 L601.1,281.5 L602.0,281.3 L602.7,281.0 L603.2,280.8 L600.8,273.2 L600.2,273.4 L599.5,273.6 L598.7,273.8 L597.7,274.1 L596.7,274.5 L595.6,274.8 L594.5,275.2 L593.3,275.6 L592.1,276.0 L590.9,276.4 L589.8,276.8 L588.6,277.2 L587.5,277.6 L586.3,278.1 L585.1,278.6 L583.9,279.1 L582.7,279.6 L581.4,280.1 L580.2,280.6 L579.0,281.1 L577.8,281.6 L576.7,282.1 L575.6,282.6 L574.6,283.1 L573.6,283.6 L572.6,284.1 L571.6,284.6 L570.6,285.1 L569.6,285.6 L568.7,286.1 L567.9,286.5 L567.1,287.0 L566.4,287.4 L565.7,287.7 L565.2,288.0 L564.7,288.3 Z" fill="#396bb3"/><path d="M566.1,291.3 L566.6,291.1 L567.2,290.8 L567.8,290.5 L568.6,290.2 L569.4,289.8 L570.3,289.4 L571.2,289.0 L572.1,288.6 L573.1,288.1 L574.1,287.7 L575.1,287.3 L576.1,286.8 L577.2,286.4 L578.3,286.0 L579.4,285.5 L580.6,285.0 L581.8,284.6 L583.0,284.1 L584.2,283.6 L585.5,283.1 L586.7,282.7 L587.9,282.2 L589.0,281.8 L590.1,281.4 L591.2,281.0 L592.4,280.6 L593.6,280.2 L594.7,279.8 L595.9,279.4 L597.0,279.0 L598.1,278.7 L599.1,278.4 L600.0,278.1 L600.8,277.8 L601.6,277.6 L602.1,277.4 L600.9,273.5 L600.3,273.7 L599.6,274.0 L598.8,274.2 L597.8,274.5 L596.8,274.8 L595.7,275.2 L594.6,275.6 L593.4,275.9 L592.2,276.3 L591.1,276.8 L589.9,277.2 L588.8,277.6 L587.6,278.0 L586.5,278.5 L585.3,278.9 L584.1,279.4 L582.8,279.9 L581.6,280.4 L580.4,281.0 L579.2,281.5 L578.0,282.0 L576.8,282.5 L575.7,283.0 L574.7,283.4 L573.7,283.9 L572.7,284.4 L571.7,284.9 L570.7,285.4 L569.8,285.9 L568.9,286.4 L568.0,286.8 L567.2,287.2 L566.5,287.6 L565.9,288.0 L565.3,288.3 L564.9,288.5 Z" fill="#4a7ec2" opacity="0.7"/>
<path d="M419.5,399.9 L420.3,399.5 L421.2,399.1 L422.3,398.6 L423.5,398.1 L424.8,397.4 L426.2,396.8 L427.7,396.1 L429.2,395.3 L430.8,394.6 L432.3,393.8 L433.7,393.0 L435.1,392.2 L436.5,391.3 L437.8,390.5 L439.1,389.6 L440.4,388.6 L441.6,387.7 L442.8,386.8 L444.0,385.9 L445.2,385.0 L446.4,384.1 L447.6,383.3 L448.7,382.5 L449.9,381.7 L451.1,380.9 L452.3,380.1 L453.5,379.3 L454.7,378.5 L455.8,377.8 L457.0,377.1 L458.1,376.4 L459.2,375.7 L460.3,375.1 L461.4,374.6 L462.5,374.1 L463.6,373.7 L464.7,373.3 L465.8,373.1 L467.0,372.9 L468.2,372.7 L469.5,372.6 L470.8,372.5 L472.2,372.3 L473.6,372.2 L475.0,372.1 L476.5,371.9 L478.0,371.6 L479.3,371.3 L480.7,371.0 L481.9,370.6 L483.1,370.3 L484.3,369.9 L485.5,369.5 L486.7,369.1 L487.9,368.6 L489.0,368.1 L490.2,367.6 L491.4,367.0 L492.5,366.4 L493.6,365.8 L494.8,365.2 L495.9,364.5 L497.0,363.8 L498.2,363.1 L499.3,362.4 L500.4,361.6 L501.6,360.7 L502.7,359.8 L503.9,358.9 L505.0,357.8 L506.1,356.7 L507.2,355.5 L508.3,354.2 L509.3,352.8 L510.2,351.4 L511.0,349.9 L511.8,348.5 L512.6,347.2 L513.3,345.9 L514.0,344.6 L514.6,343.5 L515.3,342.5 L515.9,341.7 L516.6,340.9 L517.3,340.3 L518.1,339.6 L519.0,338.9 L519.9,338.3 L520.9,337.6 L522.0,336.9 L523.1,336.2 L524.2,335.5 L525.4,334.8 L526.7,334.0 L527.9,333.1 L529.1,332.2 L530.2,331.3 L531.2,330.4 L532.3,329.5 L533.3,328.6 L534.3,327.7 L535.3,326.9 L536.2,326.0 L537.2,325.1 L538.1,324.2 L539.0,323.4 L540.0,322.5 L540.9,321.7 L541.8,320.8 L542.8,319.9 L543.7,318.9 L544.7,318.0 L545.7,317.0 L546.7,316.1 L547.6,315.2 L548.5,314.4 L549.3,313.6 L550.0,312.9 L550.6,312.3 L551.1,311.8 L544.9,304.2 L544.3,304.6 L543.6,305.0 L542.8,305.6 L541.9,306.2 L540.9,306.9 L539.8,307.6 L538.7,308.4 L537.5,309.2 L536.4,310.0 L535.3,310.8 L534.2,311.6 L533.1,312.3 L532.1,313.1 L531.1,313.9 L530.1,314.6 L529.0,315.4 L528.0,316.2 L527.0,317.0 L526.0,317.8 L524.9,318.6 L523.9,319.4 L522.9,320.2 L521.9,321.0 L520.9,321.8 L520.0,322.5 L519.0,323.3 L518.0,324.0 L516.9,324.8 L515.8,325.6 L514.7,326.4 L513.5,327.4 L512.2,328.3 L511.0,329.4 L509.8,330.5 L508.6,331.7 L507.4,333.1 L506.3,334.5 L505.3,336.0 L504.5,337.5 L503.7,339.1 L503.0,340.5 L502.3,342.0 L501.7,343.3 L501.1,344.6 L500.5,345.7 L500.0,346.8 L499.4,347.7 L498.8,348.5 L498.1,349.2 L497.4,349.9 L496.6,350.7 L495.8,351.4 L494.9,352.0 L494.1,352.7 L493.2,353.3 L492.2,353.9 L491.3,354.5 L490.3,355.1 L489.3,355.6 L488.4,356.2 L487.4,356.7 L486.5,357.1 L485.6,357.6 L484.7,358.0 L483.8,358.3 L482.8,358.7 L481.8,359.0 L480.9,359.4 L479.8,359.7 L478.8,360.0 L477.7,360.4 L476.7,360.7 L475.6,361.0 L474.5,361.2 L473.3,361.5 L472.1,361.7 L470.8,361.9 L469.4,362.2 L468.0,362.4 L466.5,362.7 L465.0,363.0 L463.5,363.4 L461.9,363.8 L460.4,364.3 L458.9,364.9 L457.4,365.5 L456.0,366.1 L454.6,366.7 L453.3,367.4 L451.9,368.1 L450.6,368.8 L449.3,369.5 L448.0,370.2 L446.7,370.9 L445.4,371.6 L444.1,372.3 L442.8,373.1 L441.4,373.9 L440.1,374.7 L438.8,375.5 L437.5,376.4 L436.2,377.2 L434.9,378.0 L433.6,378.8 L432.4,379.6 L431.2,380.4 L430.0,381.1 L428.9,381.8 L427.7,382.5 L426.4,383.3 L425.0,384.1 L423.6,384.9 L422.3,385.7 L420.9,386.5 L419.6,387.2 L418.3,387.9 L417.1,388.6 L416.1,389.2 L415.2,389.7 L414.5,390.1 Z" fill="#c2bcbd"/><path d="M418.6,398.0 L419.3,397.7 L420.2,397.2 L421.3,396.7 L422.5,396.1 L423.8,395.5 L425.2,394.8 L426.7,394.1 L428.2,393.4 L429.7,392.6 L431.1,391.8 L432.6,391.0 L433.9,390.2 L435.2,389.4 L436.5,388.6 L437.8,387.7 L439.1,386.8 L440.3,385.9 L441.6,385.0 L442.8,384.1 L444.0,383.2 L445.2,382.3 L446.4,381.5 L447.6,380.7 L448.8,379.9 L450.0,379.1 L451.2,378.4 L452.4,377.6 L453.6,376.8 L454.8,376.1 L456.0,375.4 L457.2,374.7 L458.3,374.0 L459.5,373.4 L460.7,372.8 L461.8,372.3 L463.0,371.9 L464.2,371.5 L465.4,371.2 L466.6,371.0 L467.9,370.8 L469.2,370.6 L470.6,370.5 L471.9,370.4 L473.3,370.2 L474.7,370.1 L476.1,369.9 L477.5,369.6 L478.8,369.3 L480.1,369.0 L481.3,368.6 L482.5,368.3 L483.7,367.9 L484.8,367.5 L486.0,367.1 L487.1,366.7 L488.2,366.2 L489.3,365.7 L490.4,365.2 L491.5,364.6 L492.6,364.0 L493.7,363.4 L494.8,362.7 L495.9,362.1 L497.0,361.4 L498.1,360.6 L499.2,359.9 L500.3,359.1 L501.4,358.2 L502.5,357.3 L503.5,356.3 L504.6,355.3 L505.6,354.2 L506.6,353.0 L507.5,351.7 L508.4,350.3 L509.2,348.9 L509.9,347.5 L510.6,346.2 L511.3,344.8 L512.0,343.6 L512.7,342.4 L513.4,341.3 L514.1,340.3 L514.8,339.4 L515.6,338.6 L516.5,337.9 L517.5,337.1 L518.4,336.4 L519.5,335.7 L520.6,334.9 L521.7,334.2 L522.9,333.5 L524.0,332.7 L525.2,331.9 L526.4,331.1 L527.5,330.2 L528.6,329.3 L529.7,328.5 L530.7,327.6 L531.7,326.7 L532.7,325.9 L533.7,325.0 L534.7,324.1 L535.6,323.3 L536.6,322.4 L537.5,321.5 L538.5,320.7 L539.4,319.9 L540.3,319.0 L541.3,318.2 L542.4,317.2 L543.4,316.3 L544.4,315.4 L545.4,314.5 L546.3,313.6 L547.2,312.8 L548.1,312.1 L548.8,311.4 L549.4,310.8 L549.9,310.4 L546.1,305.6 L545.5,306.0 L544.8,306.5 L544.0,307.1 L543.1,307.8 L542.1,308.5 L541.1,309.3 L540.0,310.0 L538.9,310.9 L537.8,311.7 L536.7,312.5 L535.6,313.3 L534.6,314.1 L533.6,314.9 L532.6,315.7 L531.6,316.5 L530.6,317.3 L529.6,318.1 L528.6,318.9 L527.5,319.7 L526.5,320.5 L525.5,321.3 L524.5,322.2 L523.5,323.0 L522.5,323.8 L521.5,324.5 L520.5,325.3 L519.4,326.0 L518.3,326.8 L517.2,327.6 L516.0,328.4 L514.9,329.3 L513.7,330.2 L512.5,331.2 L511.4,332.2 L510.2,333.3 L509.2,334.6 L508.1,335.9 L507.2,337.3 L506.4,338.7 L505.6,340.1 L504.9,341.6 L504.3,343.0 L503.6,344.3 L503.0,345.6 L502.4,346.8 L501.7,347.9 L501.1,348.9 L500.4,349.8 L499.6,350.6 L498.8,351.4 L498.0,352.2 L497.1,353.0 L496.2,353.7 L495.3,354.4 L494.3,355.0 L493.3,355.7 L492.4,356.3 L491.4,356.9 L490.4,357.5 L489.4,358.0 L488.4,358.5 L487.4,359.0 L486.5,359.5 L485.5,359.9 L484.5,360.3 L483.5,360.7 L482.5,361.0 L481.5,361.4 L480.5,361.7 L479.4,362.0 L478.3,362.4 L477.2,362.7 L476.0,363.0 L474.9,363.3 L473.7,363.5 L472.4,363.7 L471.1,363.9 L469.7,364.1 L468.3,364.4 L466.8,364.6 L465.4,364.9 L463.9,365.2 L462.4,365.6 L461.0,366.1 L459.6,366.6 L458.2,367.2 L456.8,367.8 L455.5,368.4 L454.2,369.1 L452.9,369.8 L451.6,370.5 L450.3,371.2 L449.0,371.9 L447.8,372.6 L446.5,373.4 L445.2,374.1 L443.9,374.9 L442.6,375.7 L441.3,376.5 L440.0,377.3 L438.7,378.2 L437.4,379.0 L436.2,379.9 L434.9,380.7 L433.7,381.5 L432.5,382.3 L431.3,383.1 L430.1,383.8 L428.8,384.5 L427.5,385.3 L426.1,386.1 L424.7,386.9 L423.3,387.7 L421.9,388.4 L420.6,389.2 L419.3,389.9 L418.1,390.5 L417.1,391.1 L416.2,391.6 L415.4,392.0 Z" fill="#d5d0d1"/><path d="M417.2,395.3 L417.9,394.9 L418.8,394.5 L419.8,393.9 L421.0,393.3 L422.3,392.6 L423.7,391.9 L425.2,391.2 L426.6,390.4 L428.1,389.6 L429.5,388.9 L430.9,388.1 L432.2,387.3 L433.4,386.5 L434.7,385.7 L436.0,384.9 L437.2,384.0 L438.5,383.2 L439.7,382.3 L440.9,381.4 L442.2,380.5 L443.4,379.7 L444.7,378.9 L445.9,378.1 L447.2,377.3 L448.4,376.5 L449.7,375.8 L450.9,375.0 L452.1,374.3 L453.4,373.5 L454.6,372.8 L455.8,372.1 L457.1,371.5 L458.3,370.9 L459.6,370.3 L460.8,369.8 L462.1,369.3 L463.4,368.9 L464.7,368.5 L466.1,368.2 L467.4,368.0 L468.8,367.8 L470.2,367.6 L471.5,367.5 L472.9,367.3 L474.2,367.1 L475.6,366.9 L476.8,366.6 L478.1,366.3 L479.3,366.0 L480.4,365.6 L481.6,365.3 L482.7,364.9 L483.8,364.6 L484.9,364.2 L485.9,363.8 L487.0,363.3 L488.0,362.9 L489.1,362.4 L490.1,361.9 L491.2,361.3 L492.2,360.7 L493.3,360.1 L494.3,359.5 L495.4,358.8 L496.4,358.1 L497.4,357.4 L498.5,356.6 L499.5,355.8 L500.5,355.0 L501.4,354.1 L502.3,353.2 L503.3,352.2 L504.1,351.1 L504.9,350.0 L505.7,348.7 L506.4,347.4 L507.1,346.1 L507.7,344.7 L508.4,343.4 L509.1,342.0 L509.8,340.7 L510.6,339.5 L511.4,338.3 L512.3,337.2 L513.2,336.2 L514.2,335.3 L515.2,334.4 L516.3,333.6 L517.4,332.8 L518.5,332.0 L519.7,331.2 L520.8,330.5 L521.9,329.7 L523.1,328.9 L524.2,328.1 L525.2,327.3 L526.3,326.5 L527.3,325.6 L528.3,324.8 L529.4,323.9 L530.4,323.1 L531.4,322.2 L532.4,321.4 L533.4,320.5 L534.3,319.7 L535.3,318.9 L536.3,318.1 L537.2,317.3 L538.2,316.5 L539.2,315.6 L540.3,314.7 L541.4,313.9 L542.4,313.0 L543.5,312.1 L544.5,311.3 L545.4,310.5 L546.2,309.8 L547.0,309.2 L547.7,308.7 L548.2,308.2 L546.3,305.9 L545.8,306.3 L545.1,306.8 L544.3,307.4 L543.4,308.1 L542.4,308.8 L541.4,309.6 L540.3,310.4 L539.2,311.2 L538.1,312.1 L537.0,312.9 L535.9,313.7 L534.9,314.5 L533.9,315.3 L532.9,316.0 L531.9,316.8 L530.9,317.7 L529.9,318.5 L528.9,319.3 L527.9,320.1 L526.9,320.9 L525.8,321.8 L524.8,322.6 L523.8,323.4 L522.8,324.2 L521.8,325.0 L520.8,325.7 L519.7,326.5 L518.6,327.2 L517.5,328.0 L516.3,328.9 L515.2,329.7 L514.0,330.6 L512.9,331.6 L511.7,332.6 L510.6,333.7 L509.5,334.9 L508.5,336.2 L507.6,337.5 L506.8,338.9 L506.0,340.3 L505.3,341.8 L504.7,343.2 L504.0,344.5 L503.4,345.8 L502.8,347.0 L502.1,348.2 L501.4,349.2 L500.7,350.1 L500.0,350.9 L499.1,351.8 L498.3,352.6 L497.4,353.3 L496.5,354.0 L495.5,354.7 L494.6,355.4 L493.6,356.0 L492.6,356.6 L491.6,357.2 L490.6,357.8 L489.6,358.4 L488.6,358.9 L487.6,359.4 L486.6,359.9 L485.7,360.3 L484.7,360.7 L483.7,361.1 L482.7,361.4 L481.7,361.8 L480.6,362.1 L479.5,362.5 L478.4,362.8 L477.3,363.1 L476.1,363.4 L475.0,363.7 L473.7,363.9 L472.5,364.1 L471.1,364.3 L469.7,364.5 L468.3,364.8 L466.9,365.0 L465.5,365.3 L464.0,365.6 L462.6,366.0 L461.1,366.5 L459.7,367.0 L458.4,367.6 L457.0,368.2 L455.7,368.8 L454.4,369.4 L453.1,370.1 L451.8,370.8 L450.5,371.5 L449.2,372.3 L448.0,373.0 L446.7,373.7 L445.4,374.5 L444.1,375.2 L442.8,376.0 L441.5,376.9 L440.3,377.7 L439.0,378.6 L437.7,379.4 L436.4,380.3 L435.2,381.1 L433.9,381.9 L432.7,382.7 L431.5,383.5 L430.3,384.2 L429.1,384.9 L427.7,385.7 L426.4,386.5 L424.9,387.3 L423.5,388.1 L422.1,388.8 L420.8,389.6 L419.5,390.3 L418.3,390.9 L417.3,391.5 L416.4,392.0 L415.6,392.4 Z" fill="#e6e2e3" opacity="0.7"/>
<ellipse cx="417.2" cy="395" rx="2" ry="5.6" transform="rotate(30 417.2 395)" fill="#e6e4e4"/>
<path d="M552,305.3 L575.6,287.7 L580,291 L567.8,300.8 Z" fill="#3d4350"/>
<path d="M569,300 L580,291 L592,289 L590,297 Z" fill="#e3dfdf"/>
<path d="M422.7,373.3 L431.5,377.3" stroke="#a5a5a5" stroke-width="2.2" stroke-linecap="round"/>
<path d="M429.5,383.2 L430.3,383.2 L431.3,383.2 L432.4,383.1 L433.7,383.1 L435.2,383.0 L436.8,383.0 L438.4,382.9 L440.1,382.8 L441.8,382.7 L443.5,382.5 L445.1,382.3 L446.6,382.1 L448.1,381.9 L449.5,381.7 L450.9,381.5 L452.4,381.3 L453.9,381.1 L455.5,380.8 L457.1,380.5 L458.7,380.0 L460.4,379.5 L462.0,378.8 L463.7,378.0 L465.5,377.1 L467.2,375.9 L468.8,374.6 L470.4,373.3 L471.8,371.8 L473.3,370.3 L474.6,368.9 L476.0,367.4 L477.2,366.0 L478.5,364.8 L479.6,363.6 L480.7,362.6 L481.9,361.6 L483.0,360.8 L484.1,360.0 L485.2,359.1 L486.3,358.4 L487.3,357.7 L488.4,357.0 L489.5,356.3 L490.6,355.7 L491.8,355.1 L493.0,354.5 L494.3,354.0 L495.6,353.5 L497.1,353.0 L498.6,352.6 L500.3,352.2 L502.2,351.9 L504.2,351.6 L506.3,351.3 L508.4,350.9 L510.6,350.6 L512.8,350.2 L514.9,349.7 L517.1,349.1 L519.1,348.4 L521.0,347.5 L522.8,346.6 L524.5,345.7 L526.1,344.7 L527.7,343.7 L529.1,342.6 L530.5,341.6 L531.8,340.6 L533.1,339.5 L534.3,338.5 L535.5,337.6 L536.7,336.6 L537.9,335.6 L539.2,334.6 L540.3,333.5 L541.5,332.5 L542.6,331.4 L543.7,330.4 L544.7,329.4 L545.7,328.3 L546.7,327.4 L547.6,326.4 L548.6,325.4 L549.6,324.4 L550.5,323.3 L551.5,322.1 L552.3,321.0 L553.1,319.9 L553.8,318.8 L554.5,317.9 L555.1,316.9 L555.7,316.1 L556.4,315.4 L557.0,314.7 L557.7,314.1 L558.5,313.5 L559.4,313.1 L560.4,312.6 L561.6,312.2 L563.0,311.8 L564.4,311.4 L565.9,311.1 L567.5,310.8 L569.1,310.5 L570.7,310.1 L572.4,309.8 L574.0,309.4 L575.4,309.0 L576.8,308.5 L578.1,308.1 L579.4,307.7 L580.6,307.3 L581.8,306.9 L583.0,306.5 L584.1,306.1 L585.3,305.6 L586.5,305.2 L587.6,304.7 L588.8,304.2 L590.1,303.7 L591.4,303.2 L592.7,302.6 L594.1,302.0 L595.6,301.3 L597.0,300.7 L598.4,300.0 L599.7,299.4 L601.0,298.8 L602.1,298.3 L603.1,297.8 L604.0,297.4 L604.6,297.1 L599.4,286.9 L598.7,287.3 L597.9,287.7 L596.9,288.3 L595.8,288.9 L594.6,289.6 L593.4,290.3 L592.1,291.1 L590.8,291.8 L589.5,292.5 L588.3,293.1 L587.1,293.7 L585.9,294.3 L584.9,294.7 L583.8,295.2 L582.7,295.6 L581.7,296.0 L580.6,296.4 L579.5,296.8 L578.4,297.1 L577.3,297.5 L576.2,297.9 L575.0,298.3 L573.8,298.6 L572.6,299.0 L571.3,299.4 L569.9,299.7 L568.5,300.1 L567.0,300.4 L565.4,300.8 L563.7,301.1 L562.0,301.5 L560.3,302.0 L558.6,302.5 L556.8,303.0 L555.2,303.7 L553.5,304.5 L552.0,305.3 L550.5,306.3 L549.2,307.2 L548.0,308.3 L546.8,309.3 L545.8,310.3 L544.8,311.2 L543.9,312.2 L543.0,313.1 L542.2,313.9 L541.3,314.8 L540.4,315.6 L539.5,316.5 L538.5,317.5 L537.5,318.6 L536.6,319.6 L535.6,320.6 L534.7,321.6 L533.8,322.6 L532.9,323.6 L531.9,324.6 L531.0,325.5 L530.0,326.5 L528.9,327.4 L527.8,328.4 L526.6,329.4 L525.5,330.4 L524.3,331.4 L523.2,332.3 L522.1,333.2 L520.9,334.1 L519.8,334.9 L518.6,335.7 L517.4,336.4 L516.1,337.1 L514.9,337.6 L513.5,338.2 L512.0,338.6 L510.3,339.0 L508.5,339.3 L506.6,339.7 L504.5,340.0 L502.4,340.3 L500.3,340.6 L498.2,341.0 L496.0,341.4 L493.9,341.9 L492.0,342.5 L490.2,343.2 L488.5,343.9 L486.9,344.5 L485.4,345.2 L483.9,346.0 L482.4,346.7 L481.0,347.5 L479.7,348.4 L478.3,349.3 L477.0,350.2 L475.6,351.2 L474.1,352.4 L472.7,353.6 L471.2,355.1 L469.8,356.6 L468.5,358.2 L467.2,359.7 L466.0,361.2 L464.8,362.7 L463.6,364.0 L462.5,365.2 L461.5,366.3 L460.5,367.2 L459.5,367.9 L458.6,368.5 L457.6,369.0 L456.5,369.5 L455.5,369.9 L454.3,370.3 L453.2,370.6 L451.9,370.8 L450.7,371.1 L449.4,371.3 L448.0,371.5 L446.7,371.7 L445.4,371.9 L444.0,372.0 L442.6,372.1 L441.2,372.2 L439.7,372.2 L438.2,372.1 L436.7,372.1 L435.2,372.0 L433.8,371.9 L432.5,371.9 L431.3,371.8 L430.3,371.8 L429.5,371.8 Z" fill="#e86e25"/><path d="M429.5,380.9 L430.3,380.9 L431.3,380.9 L432.4,380.9 L433.8,380.9 L435.2,380.8 L436.7,380.8 L438.3,380.7 L440.0,380.7 L441.7,380.6 L443.3,380.4 L444.9,380.3 L446.4,380.1 L447.8,379.9 L449.2,379.7 L450.6,379.5 L452.0,379.3 L453.5,379.0 L455.0,378.8 L456.5,378.4 L458.0,378.0 L459.6,377.5 L461.1,376.9 L462.7,376.1 L464.3,375.3 L465.8,374.2 L467.3,373.0 L468.8,371.6 L470.2,370.2 L471.6,368.8 L472.9,367.3 L474.2,365.9 L475.5,364.5 L476.7,363.1 L477.9,361.9 L479.1,360.8 L480.3,359.8 L481.5,358.9 L482.7,358.0 L483.8,357.2 L485.0,356.4 L486.1,355.6 L487.2,354.9 L488.4,354.2 L489.5,353.6 L490.8,353.0 L492.1,352.4 L493.5,351.8 L494.9,351.3 L496.4,350.8 L498.1,350.4 L499.9,350.0 L501.8,349.6 L503.9,349.3 L505.9,349.0 L508.0,348.7 L510.2,348.3 L512.3,347.9 L514.4,347.5 L516.4,346.9 L518.3,346.2 L520.1,345.4 L521.7,344.6 L523.3,343.7 L524.9,342.7 L526.3,341.8 L527.7,340.8 L529.0,339.7 L530.3,338.7 L531.6,337.7 L532.8,336.7 L534.0,335.7 L535.1,334.8 L536.3,333.8 L537.5,332.8 L538.7,331.7 L539.8,330.7 L540.8,329.7 L541.9,328.6 L542.9,327.6 L543.9,326.6 L544.9,325.6 L545.8,324.6 L546.8,323.6 L547.7,322.6 L548.7,321.6 L549.6,320.5 L550.5,319.4 L551.3,318.3 L552.0,317.3 L552.7,316.3 L553.5,315.4 L554.2,314.5 L554.9,313.7 L555.7,313.0 L556.6,312.3 L557.5,311.7 L558.5,311.2 L559.7,310.7 L561.0,310.2 L562.4,309.8 L563.9,309.5 L565.5,309.1 L567.1,308.8 L568.7,308.5 L570.3,308.1 L571.9,307.8 L573.4,307.4 L574.9,307.0 L576.2,306.6 L577.5,306.1 L578.7,305.7 L579.9,305.3 L581.1,304.9 L582.3,304.5 L583.4,304.1 L584.6,303.7 L585.7,303.3 L586.9,302.8 L588.0,302.3 L589.2,301.8 L590.5,301.3 L591.8,300.7 L593.2,300.1 L594.6,299.4 L596.0,298.8 L597.4,298.1 L598.7,297.5 L599.9,296.9 L601.1,296.3 L602.1,295.8 L602.9,295.4 L603.6,295.1 L600.4,288.9 L599.7,289.3 L598.9,289.8 L597.9,290.3 L596.8,290.9 L595.6,291.6 L594.4,292.3 L593.1,293.0 L591.8,293.7 L590.4,294.4 L589.2,295.0 L587.9,295.6 L586.8,296.2 L585.7,296.6 L584.6,297.1 L583.5,297.5 L582.4,297.9 L581.3,298.3 L580.2,298.7 L579.1,299.1 L578.0,299.5 L576.8,299.9 L575.6,300.2 L574.4,300.6 L573.1,301.0 L571.8,301.4 L570.4,301.8 L568.9,302.1 L567.4,302.4 L565.8,302.8 L564.1,303.1 L562.5,303.5 L560.8,303.9 L559.2,304.4 L557.6,304.9 L556.0,305.6 L554.5,306.3 L553.1,307.1 L551.8,307.9 L550.6,308.9 L549.5,309.8 L548.5,310.8 L547.5,311.8 L546.6,312.8 L545.7,313.7 L544.9,314.7 L544.0,315.6 L543.2,316.5 L542.3,317.4 L541.3,318.3 L540.3,319.3 L539.4,320.3 L538.4,321.3 L537.5,322.4 L536.5,323.4 L535.6,324.4 L534.6,325.4 L533.6,326.4 L532.6,327.3 L531.6,328.3 L530.5,329.2 L529.3,330.2 L528.2,331.2 L527.0,332.2 L525.8,333.2 L524.7,334.2 L523.5,335.1 L522.3,336.0 L521.0,336.9 L519.8,337.7 L518.5,338.5 L517.1,339.2 L515.7,339.8 L514.2,340.3 L512.6,340.8 L510.8,341.2 L508.9,341.6 L506.9,341.9 L504.9,342.2 L502.8,342.6 L500.7,342.9 L498.6,343.2 L496.5,343.7 L494.6,344.1 L492.7,344.7 L491.0,345.4 L489.4,346.0 L487.9,346.6 L486.4,347.3 L485.0,348.0 L483.6,348.8 L482.3,349.5 L481.0,350.4 L479.7,351.2 L478.4,352.2 L477.1,353.1 L475.7,354.2 L474.3,355.4 L472.9,356.8 L471.5,358.2 L470.2,359.7 L468.9,361.2 L467.7,362.7 L466.5,364.2 L465.3,365.6 L464.1,366.8 L462.9,368.0 L461.8,368.9 L460.7,369.7 L459.6,370.4 L458.5,371.0 L457.3,371.5 L456.1,371.9 L454.9,372.3 L453.6,372.6 L452.3,372.9 L451.0,373.1 L449.7,373.3 L448.3,373.5 L447.0,373.7 L445.6,373.9 L444.2,374.1 L442.8,374.2 L441.3,374.3 L439.8,374.3 L438.2,374.3 L436.7,374.3 L435.2,374.2 L433.8,374.2 L432.5,374.1 L431.3,374.1 L430.3,374.1 L429.5,374.1 Z" fill="#f27e2e"/><path d="M429.5,377.8 L430.3,377.8 L431.3,377.8 L432.5,377.8 L433.8,377.9 L435.2,377.9 L436.7,377.9 L438.3,377.8 L439.9,377.8 L441.5,377.7 L443.1,377.6 L444.6,377.5 L446.0,377.3 L447.4,377.1 L448.8,376.9 L450.2,376.7 L451.6,376.5 L453.0,376.3 L454.4,376.0 L455.8,375.7 L457.2,375.3 L458.6,374.8 L459.9,374.2 L461.3,373.6 L462.7,372.8 L464.0,371.8 L465.4,370.7 L466.7,369.5 L468.0,368.1 L469.3,366.7 L470.6,365.3 L471.8,363.8 L473.1,362.3 L474.4,360.9 L475.7,359.6 L476.9,358.4 L478.2,357.3 L479.5,356.3 L480.7,355.4 L482.0,354.5 L483.2,353.7 L484.4,352.9 L485.6,352.2 L486.8,351.4 L488.1,350.8 L489.5,350.1 L490.9,349.5 L492.3,348.9 L493.9,348.3 L495.6,347.8 L497.4,347.3 L499.3,346.9 L501.3,346.6 L503.4,346.3 L505.5,346.0 L507.5,345.6 L509.6,345.3 L511.6,344.9 L513.6,344.5 L515.4,343.9 L517.1,343.3 L518.7,342.6 L520.3,341.8 L521.7,341.0 L523.1,340.1 L524.5,339.2 L525.8,338.2 L527.1,337.2 L528.3,336.2 L529.5,335.2 L530.7,334.2 L531.9,333.2 L533.0,332.3 L534.2,331.3 L535.3,330.3 L536.4,329.3 L537.4,328.3 L538.5,327.3 L539.5,326.3 L540.5,325.2 L541.4,324.2 L542.4,323.2 L543.4,322.2 L544.3,321.2 L545.3,320.3 L546.2,319.3 L547.1,318.3 L548.0,317.3 L548.8,316.3 L549.6,315.3 L550.4,314.3 L551.2,313.3 L552.1,312.4 L553.0,311.5 L554.0,310.7 L555.0,310.0 L556.1,309.3 L557.4,308.7 L558.7,308.1 L560.2,307.6 L561.7,307.2 L563.3,306.8 L564.9,306.4 L566.5,306.1 L568.1,305.7 L569.7,305.4 L571.2,305.1 L572.7,304.7 L574.1,304.3 L575.4,303.9 L576.7,303.5 L577.9,303.1 L579.1,302.7 L580.2,302.3 L581.4,301.9 L582.5,301.5 L583.6,301.1 L584.7,300.7 L585.8,300.2 L587.0,299.8 L588.1,299.3 L589.3,298.7 L590.6,298.2 L592.0,297.5 L593.3,296.8 L594.7,296.2 L596.0,295.5 L597.3,294.8 L598.5,294.2 L599.6,293.6 L600.6,293.1 L601.5,292.6 L602.2,292.3 L600.6,289.2 L599.9,289.6 L599.1,290.1 L598.1,290.6 L597.0,291.2 L595.8,291.9 L594.5,292.6 L593.2,293.3 L591.9,294.0 L590.6,294.7 L589.3,295.3 L588.1,295.9 L586.9,296.4 L585.8,296.9 L584.7,297.4 L583.6,297.8 L582.5,298.2 L581.4,298.6 L580.3,299.0 L579.2,299.4 L578.1,299.8 L576.9,300.1 L575.7,300.5 L574.5,300.9 L573.2,301.3 L571.9,301.7 L570.5,302.1 L569.0,302.4 L567.5,302.7 L565.8,303.1 L564.2,303.4 L562.6,303.8 L560.9,304.2 L559.3,304.7 L557.7,305.2 L556.1,305.8 L554.7,306.5 L553.3,307.3 L552.0,308.2 L550.9,309.1 L549.8,310.1 L548.7,311.0 L547.8,312.0 L546.9,313.0 L546.0,314.0 L545.2,314.9 L544.3,315.8 L543.4,316.7 L542.5,317.6 L541.6,318.6 L540.6,319.6 L539.6,320.6 L538.7,321.6 L537.7,322.6 L536.8,323.6 L535.8,324.6 L534.8,325.6 L533.9,326.6 L532.8,327.6 L531.8,328.6 L530.7,329.5 L529.5,330.5 L528.4,331.5 L527.2,332.5 L526.0,333.5 L524.9,334.5 L523.7,335.4 L522.5,336.3 L521.2,337.2 L519.9,338.0 L518.6,338.8 L517.3,339.5 L515.9,340.1 L514.3,340.7 L512.7,341.1 L510.9,341.6 L509.0,341.9 L507.0,342.3 L504.9,342.6 L502.8,342.9 L500.7,343.2 L498.7,343.6 L496.6,344.0 L494.7,344.5 L492.8,345.1 L491.1,345.7 L489.5,346.3 L488.0,347.0 L486.6,347.6 L485.2,348.3 L483.8,349.1 L482.5,349.9 L481.2,350.7 L479.9,351.5 L478.6,352.4 L477.3,353.4 L475.9,354.5 L474.5,355.7 L473.1,357.0 L471.8,358.5 L470.5,360.0 L469.2,361.5 L467.9,363.0 L466.7,364.4 L465.5,365.8 L464.3,367.1 L463.2,368.2 L462.0,369.2 L460.9,370.0 L459.8,370.7 L458.6,371.3 L457.4,371.8 L456.2,372.2 L455.0,372.6 L453.7,372.9 L452.4,373.2 L451.1,373.4 L449.7,373.6 L448.4,373.8 L447.0,374.0 L445.7,374.2 L444.3,374.4 L442.8,374.5 L441.3,374.6 L439.8,374.6 L438.2,374.6 L436.7,374.6 L435.2,374.6 L433.8,374.5 L432.5,374.5 L431.3,374.4 L430.3,374.4 L429.5,374.4 Z" fill="#f8924a" opacity="0.7"/>
<ellipse cx="430" cy="377.6" rx="1.8" ry="4.5" transform="rotate(-8 430 377.6)" fill="#f3b58c"/>
<path d="M381.0,280.7 L388.5,280.5" stroke="#b4b2b2" stroke-width="2.2" stroke-linecap="round"/>
<path d="M401.5,330.5 L411.0,322.5" stroke="#b4b2b2" stroke-width="2.4" stroke-linecap="round"/>
<path d="M375.2,365.8 L381.5,362.6" stroke="#b4b2b2" stroke-width="2.4" stroke-linecap="round"/>
<path d="M413.8,399.8 L417.5,395.2" stroke="#b4b2b2" stroke-width="2.4" stroke-linecap="round"/>
<!-- leader lines -->
<circle cx="636.6" cy="275.3" r="1.6" fill="#c4c4c4" opacity="0.6"/>
<g fill="none" stroke="#1d100b" stroke-width="2.6" stroke-linecap="butt" stroke-linejoin="miter">
<path d="M314,191.3 H400 V260"/>
<path d="M636.6,277.6 V335.8 H744"/>
<path d="M364,416.2 H424 V400.5"/>
</g>
<g font-family="Liberation Sans" font-size="25" fill="#161616" stroke="#161616" stroke-width="0.22" opacity="0.99">
<text transform="translate(212.79 195.80) scale(0.680 1)">C</text>
<text transform="translate(225.40 195.80) scale(0.729 1)">o</text>
<text transform="translate(236.98 195.80) scale(0.717 1)">n</text>
<text transform="translate(248.34 195.80) scale(0.786 1)">d</text>
<text transform="translate(260.08 195.80) scale(0.764 1)">u</text>
<text transform="translate(271.21 195.80) scale(0.680 1)">c</text>
<text transform="translate(279.98 195.80) scale(0.950 1)">t</text>
<text transform="translate(287.60 195.80) scale(0.729 1)">o</text>
<text transform="translate(298.76 195.80) scale(0.790 1)">r</text>
<text transform="translate(751.10 346.10) scale(0.680 1)">T</text>
<text transform="translate(761.15 346.10) scale(0.792 1)">h</text>
<text transform="translate(773.02 346.10) scale(0.709 1)">e</text>
<text transform="translate(787.76 346.10) scale(0.933 1)">j</text>
<text transform="translate(792.55 346.10) scale(0.680 1)">a</text>
<text transform="translate(803.31 346.10) scale(0.680 1)">c</text>
<text transform="translate(812.89 346.10) scale(0.713 1)">k</text>
<text transform="translate(822.61 346.10) scale(0.718 1)">e</text>
<text transform="translate(832.84 346.10) scale(0.891 1)">t</text>
<text transform="translate(213.76 422.30) scale(0.683 1)">H</text>
<text transform="translate(226.98 422.30) scale(0.723 1)">D</text>
<text transform="translate(240.21 422.30) scale(0.721 1)">&#45;</text>
<text transform="translate(246.65 422.30) scale(0.680 1)">P</text>
<text transform="translate(258.08 422.30) scale(0.680 1)">E</text>
<text transform="translate(273.19 422.30) scale(0.950 1)">i</text>
<text transform="translate(278.72 422.30) scale(0.755 1)">n</text>
<text transform="translate(289.31 422.30) scale(0.697 1)">s</text>
<text transform="translate(299.55 422.30) scale(0.717 1)">u</text>
<text transform="translate(309.99 422.30) scale(0.773 1)">l</text>
<text transform="translate(314.50 422.30) scale(0.680 1)">a</text>
<text transform="translate(324.57 422.30) scale(0.828 1)">t</text>
<text transform="translate(331.39 422.30) scale(0.950 1)">i</text>
<text transform="translate(338.22 422.30) scale(0.712 1)">o</text>
<text transform="translate(349.54 422.30) scale(0.680 1)">n</text>
</g>
</svg>
</body></html>
